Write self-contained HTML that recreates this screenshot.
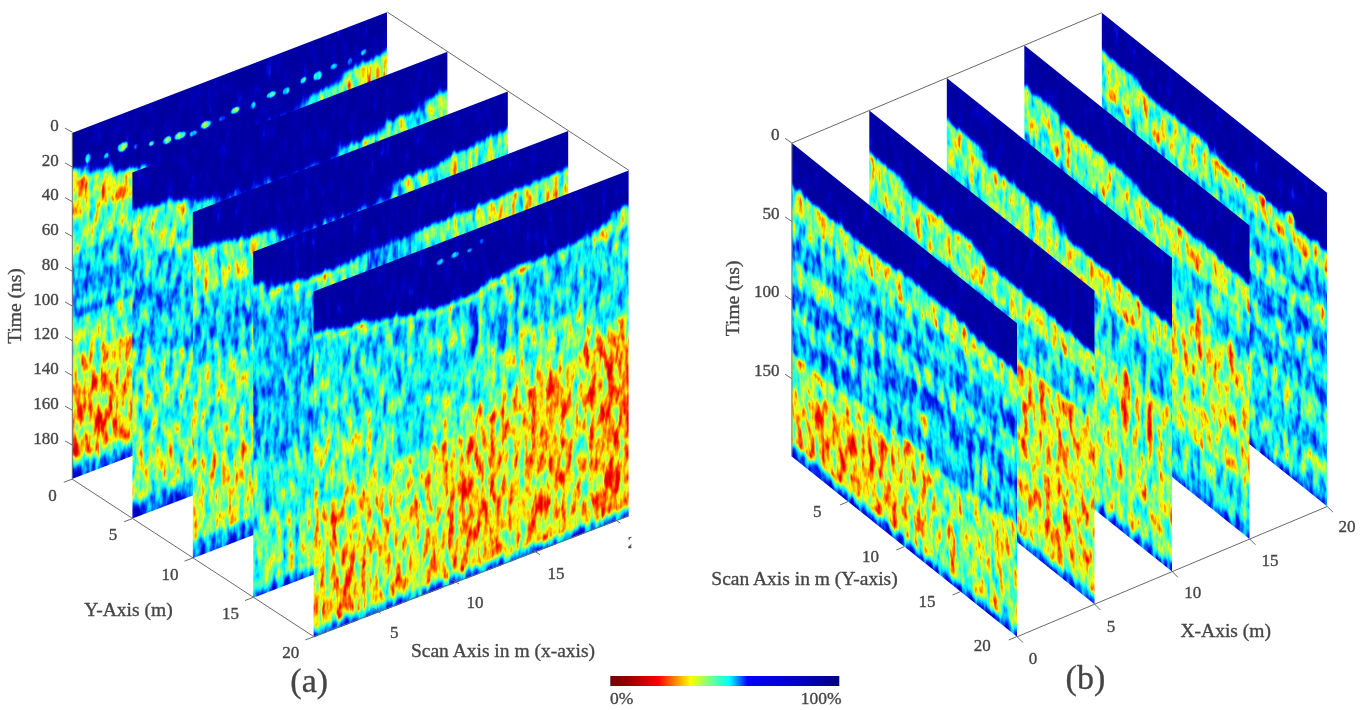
<!DOCTYPE html>
<html><head><meta charset="utf-8"><style>
html,body{margin:0;padding:0;background:#fff;overflow:hidden;}
svg{display:block;}
text{font-family:"Liberation Serif",serif;fill:#454545;stroke:#454545;stroke-width:0.35px;}
</style></head><body>
<svg width="1363" height="710" viewBox="0 0 1363 710">
<defs><linearGradient id="ga00" gradientUnits="userSpaceOnUse" x1="0" y1="0" x2="0" y2="346"><stop offset="0.0000" stop-color="#f2f2f2"/><stop offset="0.0882" stop-color="#f2f2f2"/><stop offset="0.1142" stop-color="#5f5f5f"/><stop offset="0.2355" stop-color="#5f5f5f"/><stop offset="0.2500" stop-color="#737373"/><stop offset="0.3425" stop-color="#737373"/><stop offset="0.3569" stop-color="#8c8c8c"/><stop offset="0.4234" stop-color="#8c8c8c"/><stop offset="0.4379" stop-color="#9e9e9e"/><stop offset="0.4783" stop-color="#9e9e9e"/><stop offset="0.4928" stop-color="#8a8a8a"/><stop offset="0.5043" stop-color="#8a8a8a"/><stop offset="0.5188" stop-color="#999999"/><stop offset="0.5303" stop-color="#999999"/><stop offset="0.5448" stop-color="#737373"/><stop offset="0.6373" stop-color="#737373"/><stop offset="0.6517" stop-color="#5f5f5f"/><stop offset="0.7182" stop-color="#5f5f5f"/><stop offset="0.7327" stop-color="#4d4d4d"/><stop offset="0.9350" stop-color="#4d4d4d"/><stop offset="0.9494" stop-color="#707070"/><stop offset="0.9538" stop-color="#707070"/><stop offset="0.9711" stop-color="#949494"/><stop offset="0.9942" stop-color="#b2b2b2"/><stop offset="1.0000" stop-color="#b2b2b2"/></linearGradient><linearGradient id="ga01" gradientUnits="userSpaceOnUse" x1="0" y1="0" x2="0" y2="346"><stop offset="0.0000" stop-color="#f2f2f2"/><stop offset="0.1199" stop-color="#f2f2f2"/><stop offset="0.1460" stop-color="#5f5f5f"/><stop offset="0.2355" stop-color="#5f5f5f"/><stop offset="0.2500" stop-color="#737373"/><stop offset="0.3425" stop-color="#737373"/><stop offset="0.3569" stop-color="#8c8c8c"/><stop offset="0.4234" stop-color="#8c8c8c"/><stop offset="0.4379" stop-color="#9e9e9e"/><stop offset="0.4783" stop-color="#9e9e9e"/><stop offset="0.4928" stop-color="#8a8a8a"/><stop offset="0.5043" stop-color="#8a8a8a"/><stop offset="0.5188" stop-color="#999999"/><stop offset="0.5303" stop-color="#999999"/><stop offset="0.5448" stop-color="#737373"/><stop offset="0.6373" stop-color="#737373"/><stop offset="0.6517" stop-color="#5f5f5f"/><stop offset="0.7182" stop-color="#5f5f5f"/><stop offset="0.7327" stop-color="#505050"/><stop offset="0.9350" stop-color="#505050"/><stop offset="0.9494" stop-color="#707070"/><stop offset="0.9538" stop-color="#707070"/><stop offset="0.9711" stop-color="#949494"/><stop offset="0.9942" stop-color="#b2b2b2"/><stop offset="1.0000" stop-color="#b2b2b2"/></linearGradient><linearGradient id="ga02" gradientUnits="userSpaceOnUse" x1="0" y1="0" x2="0" y2="346"><stop offset="0.0000" stop-color="#f2f2f2"/><stop offset="0.1488" stop-color="#f2f2f2"/><stop offset="0.1749" stop-color="#5e5e5e"/><stop offset="0.2413" stop-color="#5e5e5e"/><stop offset="0.2558" stop-color="#737373"/><stop offset="0.3425" stop-color="#737373"/><stop offset="0.3569" stop-color="#8c8c8c"/><stop offset="0.4234" stop-color="#8c8c8c"/><stop offset="0.4379" stop-color="#9e9e9e"/><stop offset="0.4783" stop-color="#9e9e9e"/><stop offset="0.4928" stop-color="#8a8a8a"/><stop offset="0.5043" stop-color="#8a8a8a"/><stop offset="0.5188" stop-color="#999999"/><stop offset="0.5303" stop-color="#999999"/><stop offset="0.5448" stop-color="#737373"/><stop offset="0.6373" stop-color="#737373"/><stop offset="0.6517" stop-color="#5e5e5e"/><stop offset="0.7182" stop-color="#5e5e5e"/><stop offset="0.7327" stop-color="#555555"/><stop offset="0.9350" stop-color="#555555"/><stop offset="0.9494" stop-color="#707070"/><stop offset="0.9538" stop-color="#707070"/><stop offset="0.9711" stop-color="#949494"/><stop offset="0.9942" stop-color="#b2b2b2"/><stop offset="1.0000" stop-color="#b2b2b2"/></linearGradient><linearGradient id="ga03" gradientUnits="userSpaceOnUse" x1="0" y1="0" x2="0" y2="346"><stop offset="0.0000" stop-color="#f2f2f2"/><stop offset="0.1604" stop-color="#f2f2f2"/><stop offset="0.1864" stop-color="#666666"/><stop offset="0.2413" stop-color="#666666"/><stop offset="0.2558" stop-color="#737373"/><stop offset="0.3425" stop-color="#737373"/><stop offset="0.3569" stop-color="#8c8c8c"/><stop offset="0.4234" stop-color="#8c8c8c"/><stop offset="0.4379" stop-color="#9e9e9e"/><stop offset="0.4783" stop-color="#9e9e9e"/><stop offset="0.4928" stop-color="#8a8a8a"/><stop offset="0.5043" stop-color="#8a8a8a"/><stop offset="0.5188" stop-color="#999999"/><stop offset="0.5303" stop-color="#999999"/><stop offset="0.5448" stop-color="#737373"/><stop offset="0.6373" stop-color="#737373"/><stop offset="0.6517" stop-color="#5e5e5e"/><stop offset="0.7182" stop-color="#5e5e5e"/><stop offset="0.7327" stop-color="#555555"/><stop offset="0.9350" stop-color="#555555"/><stop offset="0.9494" stop-color="#707070"/><stop offset="0.9538" stop-color="#707070"/><stop offset="0.9711" stop-color="#949494"/><stop offset="0.9942" stop-color="#b2b2b2"/><stop offset="1.0000" stop-color="#b2b2b2"/></linearGradient><linearGradient id="ga04" gradientUnits="userSpaceOnUse" x1="0" y1="0" x2="0" y2="346"><stop offset="0.0000" stop-color="#f2f2f2"/><stop offset="0.9624" stop-color="#f2f2f2"/><stop offset="0.9798" stop-color="#949494"/><stop offset="0.9942" stop-color="#adadad"/><stop offset="1.0000" stop-color="#adadad"/></linearGradient><linearGradient id="ga05" gradientUnits="userSpaceOnUse" x1="0" y1="0" x2="0" y2="346"><stop offset="0.0000" stop-color="#f2f2f2"/><stop offset="0.9624" stop-color="#f2f2f2"/><stop offset="0.9798" stop-color="#949494"/><stop offset="0.9942" stop-color="#adadad"/><stop offset="1.0000" stop-color="#adadad"/></linearGradient><linearGradient id="ga06" gradientUnits="userSpaceOnUse" x1="0" y1="0" x2="0" y2="346"><stop offset="0.0000" stop-color="#f2f2f2"/><stop offset="0.1662" stop-color="#f2f2f2"/><stop offset="0.1922" stop-color="#999999"/><stop offset="0.9624" stop-color="#999999"/><stop offset="0.9798" stop-color="#949494"/><stop offset="0.9942" stop-color="#adadad"/><stop offset="1.0000" stop-color="#adadad"/></linearGradient><linearGradient id="ga07" gradientUnits="userSpaceOnUse" x1="0" y1="0" x2="0" y2="346"><stop offset="0.0000" stop-color="#f2f2f2"/><stop offset="0.1373" stop-color="#f2f2f2"/><stop offset="0.1633" stop-color="#808080"/><stop offset="0.9624" stop-color="#808080"/><stop offset="0.9798" stop-color="#949494"/><stop offset="0.9942" stop-color="#adadad"/><stop offset="1.0000" stop-color="#adadad"/></linearGradient><linearGradient id="ga08" gradientUnits="userSpaceOnUse" x1="0" y1="0" x2="0" y2="346"><stop offset="0.0000" stop-color="#f2f2f2"/><stop offset="0.1084" stop-color="#f2f2f2"/><stop offset="0.1344" stop-color="#616161"/><stop offset="0.9624" stop-color="#616161"/><stop offset="0.9798" stop-color="#949494"/><stop offset="0.9942" stop-color="#adadad"/><stop offset="1.0000" stop-color="#adadad"/></linearGradient><linearGradient id="ga09" gradientUnits="userSpaceOnUse" x1="0" y1="0" x2="0" y2="346"><stop offset="0.0000" stop-color="#f2f2f2"/><stop offset="0.0968" stop-color="#f2f2f2"/><stop offset="0.1228" stop-color="#606060"/><stop offset="0.9624" stop-color="#606060"/><stop offset="0.9798" stop-color="#949494"/><stop offset="0.9942" stop-color="#adadad"/><stop offset="1.0000" stop-color="#adadad"/></linearGradient><filter id="bla0" filterUnits="userSpaceOnUse" x="-30" y="-30" width="375" height="406" color-interpolation-filters="sRGB"><feGaussianBlur stdDeviation="7 1.2"/></filter><radialGradient id="r52"><stop offset="0" stop-color="#858585"/><stop offset="0.55" stop-color="#858585" stop-opacity="0.85"/><stop offset="1" stop-color="#858585" stop-opacity="0"/></radialGradient><radialGradient id="r55"><stop offset="0" stop-color="#8c8c8c"/><stop offset="0.55" stop-color="#8c8c8c" stop-opacity="0.85"/><stop offset="1" stop-color="#8c8c8c" stop-opacity="0"/></radialGradient><radialGradient id="r42"><stop offset="0" stop-color="#6b6b6b"/><stop offset="0.55" stop-color="#6b6b6b" stop-opacity="0.85"/><stop offset="1" stop-color="#6b6b6b" stop-opacity="0"/></radialGradient><radialGradient id="r44"><stop offset="0" stop-color="#707070"/><stop offset="0.55" stop-color="#707070" stop-opacity="0.85"/><stop offset="1" stop-color="#707070" stop-opacity="0"/></radialGradient><radialGradient id="r40"><stop offset="0" stop-color="#666666"/><stop offset="0.55" stop-color="#666666" stop-opacity="0.85"/><stop offset="1" stop-color="#666666" stop-opacity="0"/></radialGradient><radialGradient id="r50"><stop offset="0" stop-color="#808080"/><stop offset="0.55" stop-color="#808080" stop-opacity="0.85"/><stop offset="1" stop-color="#808080" stop-opacity="0"/></radialGradient><radialGradient id="r46"><stop offset="0" stop-color="#757575"/><stop offset="0.55" stop-color="#757575" stop-opacity="0.85"/><stop offset="1" stop-color="#757575" stop-opacity="0"/></radialGradient><radialGradient id="r45"><stop offset="0" stop-color="#737373"/><stop offset="0.55" stop-color="#737373" stop-opacity="0.85"/><stop offset="1" stop-color="#737373" stop-opacity="0"/></radialGradient><filter id="ja0" filterUnits="userSpaceOnUse" x="-30" y="-30" width="375" height="406" color-interpolation-filters="sRGB" primitiveUnits="userSpaceOnUse"><feTurbulence type="fractalNoise" baseFrequency="0.17 0.045" numOctaves="3" seed="10" result="n0"/><feColorMatrix in="n0" type="matrix" values="1 0 0 0 0 1 0 0 0 0 1 0 0 0 0 0 0 0 0 1" result="n"/><feComposite in="SourceGraphic" in2="n" operator="arithmetic" k2="1" k3="0.55" k4="-0.275" result="s"/><feColorMatrix in="s" type="matrix" values="1 0 0 0 0 1 0 0 0 0 1 0 0 0 0 0 0 0 0 1"/><feComponentTransfer><feFuncR type="table" tableValues="0.502 0.527 0.552 0.577 0.602 0.626 0.651 0.676 0.701 0.726 0.751 0.776 0.801 0.826 0.851 0.875 0.9 0.925 0.95 0.975 1 1 1 1 1 1 1 1 1 1 1 1 1 1 1 1 0.938 0.875 0.813 0.751 0.689 0.626 0.564 0.502 0.446 0.39 0.335 0.279 0.223 0.167 0.112 0.0558 0 0 0 0 0 0 0 0 0 0 0 0 0 0 0 0 0 0 0 0 0 0 0 0 0 0 0 0 0 0 0 0 0 0 0 0 0 0 0 0 0 0 0 0 0 0 0 0 0"/><feFuncG type="table" tableValues="0 0 0 0 0 0 0 0 0 0 0 0 0 0 0 0 0 0 0 0 0 0.0627 0.125 0.188 0.251 0.314 0.376 0.439 0.502 0.573 0.644 0.715 0.787 0.858 0.929 1 1 1 1 1 1 1 1 1 1 1 1 1 1 1 1 1 1 0.958 0.915 0.873 0.83 0.788 0.745 0.693 0.641 0.588 0.536 0.484 0.431 0.382 0.333 0.284 0.235 0.186 0.137 0.124 0.11 0.0961 0.0824 0.0686 0.0549 0.0412 0.0275 0.0137 0 0 0 0 0 0 0 0 0 0 0 0 0 0 0 0 0 0 0 0 0"/><feFuncB type="table" tableValues="0 0 0 0 0 0 0 0 0 0 0 0 0 0 0 0 0 0 0 0 0 0 0 0 0 0 0 0 0 0 0 0 0 0 0 0 0.0627 0.125 0.188 0.251 0.314 0.376 0.439 0.502 0.557 0.613 0.668 0.723 0.779 0.834 0.889 0.945 1 1 1 1 1 1 1 1 1 1 1 1 1 0.993 0.987 0.98 0.974 0.967 0.961 0.941 0.922 0.902 0.882 0.863 0.843 0.824 0.804 0.784 0.765 0.755 0.745 0.735 0.725 0.716 0.706 0.696 0.686 0.676 0.667 0.663 0.659 0.655 0.651 0.647 0.643 0.639 0.635 0.631 0.627"/></feComponentTransfer><feGaussianBlur stdDeviation="0.6"/></filter><clipPath id="ca0"><rect x="0" y="0" width="315" height="346"/></clipPath><linearGradient id="ga10" gradientUnits="userSpaceOnUse" x1="0" y1="0" x2="0" y2="346"><stop offset="0.0000" stop-color="#f2f2f2"/><stop offset="0.0882" stop-color="#f2f2f2"/><stop offset="0.1142" stop-color="#737373"/><stop offset="0.2240" stop-color="#737373"/><stop offset="0.2384" stop-color="#8c8c8c"/><stop offset="0.3338" stop-color="#8c8c8c"/><stop offset="0.3483" stop-color="#9e9e9e"/><stop offset="0.3858" stop-color="#9e9e9e"/><stop offset="0.4003" stop-color="#8c8c8c"/><stop offset="0.4725" stop-color="#8c8c8c"/><stop offset="0.4870" stop-color="#999999"/><stop offset="0.5101" stop-color="#999999"/><stop offset="0.5246" stop-color="#787878"/><stop offset="0.7731" stop-color="#787878"/><stop offset="0.7876" stop-color="#6b6b6b"/><stop offset="0.9422" stop-color="#6b6b6b"/><stop offset="0.9595" stop-color="#949494"/><stop offset="0.9942" stop-color="#b8b8b8"/><stop offset="1.0000" stop-color="#b8b8b8"/></linearGradient><linearGradient id="ga11" gradientUnits="userSpaceOnUse" x1="0" y1="0" x2="0" y2="346"><stop offset="0.0000" stop-color="#f2f2f2"/><stop offset="0.1055" stop-color="#f2f2f2"/><stop offset="0.1315" stop-color="#737373"/><stop offset="0.2529" stop-color="#737373"/><stop offset="0.2673" stop-color="#8c8c8c"/><stop offset="0.3656" stop-color="#8c8c8c"/><stop offset="0.3801" stop-color="#9e9e9e"/><stop offset="0.4176" stop-color="#9e9e9e"/><stop offset="0.4321" stop-color="#8c8c8c"/><stop offset="0.5043" stop-color="#8c8c8c"/><stop offset="0.5188" stop-color="#999999"/><stop offset="0.5419" stop-color="#999999"/><stop offset="0.5564" stop-color="#787878"/><stop offset="0.8020" stop-color="#787878"/><stop offset="0.8165" stop-color="#6b6b6b"/><stop offset="0.9422" stop-color="#6b6b6b"/><stop offset="0.9595" stop-color="#949494"/><stop offset="0.9942" stop-color="#b8b8b8"/><stop offset="1.0000" stop-color="#b8b8b8"/></linearGradient><linearGradient id="ga12" gradientUnits="userSpaceOnUse" x1="0" y1="0" x2="0" y2="346"><stop offset="0.0000" stop-color="#f2f2f2"/><stop offset="0.1199" stop-color="#f2f2f2"/><stop offset="0.1460" stop-color="#737373"/><stop offset="0.2645" stop-color="#737373"/><stop offset="0.2789" stop-color="#8c8c8c"/><stop offset="0.3772" stop-color="#8c8c8c"/><stop offset="0.3916" stop-color="#9e9e9e"/><stop offset="0.4292" stop-color="#9e9e9e"/><stop offset="0.4436" stop-color="#8c8c8c"/><stop offset="0.5159" stop-color="#8c8c8c"/><stop offset="0.5303" stop-color="#999999"/><stop offset="0.5535" stop-color="#999999"/><stop offset="0.5679" stop-color="#787878"/><stop offset="0.8136" stop-color="#787878"/><stop offset="0.8280" stop-color="#6b6b6b"/><stop offset="0.9422" stop-color="#6b6b6b"/><stop offset="0.9595" stop-color="#949494"/><stop offset="0.9942" stop-color="#b8b8b8"/><stop offset="1.0000" stop-color="#b8b8b8"/></linearGradient><linearGradient id="ga13" gradientUnits="userSpaceOnUse" x1="0" y1="0" x2="0" y2="346"><stop offset="0.0000" stop-color="#f2f2f2"/><stop offset="0.1431" stop-color="#f2f2f2"/><stop offset="0.1691" stop-color="#808080"/><stop offset="0.2645" stop-color="#808080"/><stop offset="0.2789" stop-color="#8c8c8c"/><stop offset="0.3772" stop-color="#8c8c8c"/><stop offset="0.3916" stop-color="#9e9e9e"/><stop offset="0.4292" stop-color="#9e9e9e"/><stop offset="0.4436" stop-color="#8c8c8c"/><stop offset="0.5159" stop-color="#8c8c8c"/><stop offset="0.5303" stop-color="#999999"/><stop offset="0.5535" stop-color="#999999"/><stop offset="0.5679" stop-color="#787878"/><stop offset="0.8136" stop-color="#787878"/><stop offset="0.8280" stop-color="#6b6b6b"/><stop offset="0.9422" stop-color="#6b6b6b"/><stop offset="0.9595" stop-color="#949494"/><stop offset="0.9942" stop-color="#b8b8b8"/><stop offset="1.0000" stop-color="#b8b8b8"/></linearGradient><linearGradient id="ga14" gradientUnits="userSpaceOnUse" x1="0" y1="0" x2="0" y2="346"><stop offset="0.0000" stop-color="#f2f2f2"/><stop offset="0.1546" stop-color="#f2f2f2"/><stop offset="0.1806" stop-color="#b8b8b8"/><stop offset="0.9624" stop-color="#b8b8b8"/><stop offset="0.9798" stop-color="#949494"/><stop offset="0.9942" stop-color="#adadad"/><stop offset="1.0000" stop-color="#adadad"/></linearGradient><linearGradient id="ga15" gradientUnits="userSpaceOnUse" x1="0" y1="0" x2="0" y2="346"><stop offset="0.0000" stop-color="#f2f2f2"/><stop offset="0.1662" stop-color="#f2f2f2"/><stop offset="0.1922" stop-color="#999999"/><stop offset="0.9624" stop-color="#999999"/><stop offset="0.9798" stop-color="#949494"/><stop offset="0.9942" stop-color="#adadad"/><stop offset="1.0000" stop-color="#adadad"/></linearGradient><linearGradient id="ga16" gradientUnits="userSpaceOnUse" x1="0" y1="0" x2="0" y2="346"><stop offset="0.0000" stop-color="#f2f2f2"/><stop offset="0.1431" stop-color="#f2f2f2"/><stop offset="0.1691" stop-color="#808080"/><stop offset="0.9624" stop-color="#808080"/><stop offset="0.9798" stop-color="#949494"/><stop offset="0.9942" stop-color="#adadad"/><stop offset="1.0000" stop-color="#adadad"/></linearGradient><linearGradient id="ga17" gradientUnits="userSpaceOnUse" x1="0" y1="0" x2="0" y2="346"><stop offset="0.0000" stop-color="#f2f2f2"/><stop offset="0.1199" stop-color="#f2f2f2"/><stop offset="0.1460" stop-color="#757575"/><stop offset="0.9624" stop-color="#757575"/><stop offset="0.9798" stop-color="#949494"/><stop offset="0.9942" stop-color="#adadad"/><stop offset="1.0000" stop-color="#adadad"/></linearGradient><linearGradient id="ga18" gradientUnits="userSpaceOnUse" x1="0" y1="0" x2="0" y2="346"><stop offset="0.0000" stop-color="#f2f2f2"/><stop offset="0.0968" stop-color="#f2f2f2"/><stop offset="0.1228" stop-color="#707070"/><stop offset="0.9624" stop-color="#707070"/><stop offset="0.9798" stop-color="#949494"/><stop offset="0.9942" stop-color="#adadad"/><stop offset="1.0000" stop-color="#adadad"/></linearGradient><filter id="bla1" filterUnits="userSpaceOnUse" x="-30" y="-30" width="375" height="406" color-interpolation-filters="sRGB"><feGaussianBlur stdDeviation="7 1.2"/></filter><filter id="ja1" filterUnits="userSpaceOnUse" x="-30" y="-30" width="375" height="406" color-interpolation-filters="sRGB" primitiveUnits="userSpaceOnUse"><feTurbulence type="fractalNoise" baseFrequency="0.17 0.045" numOctaves="3" seed="11" result="n0"/><feColorMatrix in="n0" type="matrix" values="1 0 0 0 0 1 0 0 0 0 1 0 0 0 0 0 0 0 0 1" result="n"/><feComposite in="SourceGraphic" in2="n" operator="arithmetic" k2="1" k3="0.55" k4="-0.275" result="s"/><feColorMatrix in="s" type="matrix" values="1 0 0 0 0 1 0 0 0 0 1 0 0 0 0 0 0 0 0 1"/><feComponentTransfer><feFuncR type="table" tableValues="0.502 0.527 0.552 0.577 0.602 0.626 0.651 0.676 0.701 0.726 0.751 0.776 0.801 0.826 0.851 0.875 0.9 0.925 0.95 0.975 1 1 1 1 1 1 1 1 1 1 1 1 1 1 1 1 0.938 0.875 0.813 0.751 0.689 0.626 0.564 0.502 0.446 0.39 0.335 0.279 0.223 0.167 0.112 0.0558 0 0 0 0 0 0 0 0 0 0 0 0 0 0 0 0 0 0 0 0 0 0 0 0 0 0 0 0 0 0 0 0 0 0 0 0 0 0 0 0 0 0 0 0 0 0 0 0 0"/><feFuncG type="table" tableValues="0 0 0 0 0 0 0 0 0 0 0 0 0 0 0 0 0 0 0 0 0 0.0627 0.125 0.188 0.251 0.314 0.376 0.439 0.502 0.573 0.644 0.715 0.787 0.858 0.929 1 1 1 1 1 1 1 1 1 1 1 1 1 1 1 1 1 1 0.958 0.915 0.873 0.83 0.788 0.745 0.693 0.641 0.588 0.536 0.484 0.431 0.382 0.333 0.284 0.235 0.186 0.137 0.124 0.11 0.0961 0.0824 0.0686 0.0549 0.0412 0.0275 0.0137 0 0 0 0 0 0 0 0 0 0 0 0 0 0 0 0 0 0 0 0 0"/><feFuncB type="table" tableValues="0 0 0 0 0 0 0 0 0 0 0 0 0 0 0 0 0 0 0 0 0 0 0 0 0 0 0 0 0 0 0 0 0 0 0 0 0.0627 0.125 0.188 0.251 0.314 0.376 0.439 0.502 0.557 0.613 0.668 0.723 0.779 0.834 0.889 0.945 1 1 1 1 1 1 1 1 1 1 1 1 1 0.993 0.987 0.98 0.974 0.967 0.961 0.941 0.922 0.902 0.882 0.863 0.843 0.824 0.804 0.784 0.765 0.755 0.745 0.735 0.725 0.716 0.706 0.696 0.686 0.676 0.667 0.663 0.659 0.655 0.651 0.647 0.643 0.639 0.635 0.631 0.627"/></feComponentTransfer><feGaussianBlur stdDeviation="0.6"/></filter><clipPath id="ca1"><rect x="0" y="0" width="315" height="346"/></clipPath><linearGradient id="ga20" gradientUnits="userSpaceOnUse" x1="0" y1="0" x2="0" y2="346"><stop offset="0.0000" stop-color="#f2f2f2"/><stop offset="0.0910" stop-color="#f2f2f2"/><stop offset="0.1171" stop-color="#707070"/><stop offset="0.2413" stop-color="#707070"/><stop offset="0.2558" stop-color="#8a8a8a"/><stop offset="0.3165" stop-color="#8a8a8a"/><stop offset="0.3309" stop-color="#999999"/><stop offset="0.3801" stop-color="#999999"/><stop offset="0.3945" stop-color="#8a8a8a"/><stop offset="0.4465" stop-color="#8a8a8a"/><stop offset="0.4610" stop-color="#757575"/><stop offset="0.7153" stop-color="#757575"/><stop offset="0.7298" stop-color="#666666"/><stop offset="0.9176" stop-color="#666666"/><stop offset="0.9321" stop-color="#666666"/><stop offset="0.9422" stop-color="#666666"/><stop offset="0.9595" stop-color="#949494"/><stop offset="0.9942" stop-color="#b8b8b8"/><stop offset="1.0000" stop-color="#b8b8b8"/></linearGradient><linearGradient id="ga21" gradientUnits="userSpaceOnUse" x1="0" y1="0" x2="0" y2="346"><stop offset="0.0000" stop-color="#f2f2f2"/><stop offset="0.1026" stop-color="#f2f2f2"/><stop offset="0.1286" stop-color="#707070"/><stop offset="0.2413" stop-color="#707070"/><stop offset="0.2558" stop-color="#8a8a8a"/><stop offset="0.3165" stop-color="#8a8a8a"/><stop offset="0.3309" stop-color="#999999"/><stop offset="0.3801" stop-color="#999999"/><stop offset="0.3945" stop-color="#8a8a8a"/><stop offset="0.4465" stop-color="#8a8a8a"/><stop offset="0.4610" stop-color="#757575"/><stop offset="0.7153" stop-color="#757575"/><stop offset="0.7298" stop-color="#666666"/><stop offset="0.9176" stop-color="#666666"/><stop offset="0.9321" stop-color="#666666"/><stop offset="0.9422" stop-color="#666666"/><stop offset="0.9595" stop-color="#949494"/><stop offset="0.9942" stop-color="#b8b8b8"/><stop offset="1.0000" stop-color="#b8b8b8"/></linearGradient><linearGradient id="ga22" gradientUnits="userSpaceOnUse" x1="0" y1="0" x2="0" y2="346"><stop offset="0.0000" stop-color="#f2f2f2"/><stop offset="0.1171" stop-color="#f2f2f2"/><stop offset="0.1431" stop-color="#707070"/><stop offset="0.2413" stop-color="#707070"/><stop offset="0.2558" stop-color="#8a8a8a"/><stop offset="0.3165" stop-color="#8a8a8a"/><stop offset="0.3309" stop-color="#999999"/><stop offset="0.3801" stop-color="#999999"/><stop offset="0.3945" stop-color="#8a8a8a"/><stop offset="0.4465" stop-color="#8a8a8a"/><stop offset="0.4610" stop-color="#757575"/><stop offset="0.7153" stop-color="#757575"/><stop offset="0.7298" stop-color="#666666"/><stop offset="0.9176" stop-color="#666666"/><stop offset="0.9321" stop-color="#666666"/><stop offset="0.9422" stop-color="#666666"/><stop offset="0.9595" stop-color="#949494"/><stop offset="0.9942" stop-color="#b8b8b8"/><stop offset="1.0000" stop-color="#b8b8b8"/></linearGradient><linearGradient id="ga23" gradientUnits="userSpaceOnUse" x1="0" y1="0" x2="0" y2="346"><stop offset="0.0000" stop-color="#f2f2f2"/><stop offset="0.1199" stop-color="#f2f2f2"/><stop offset="0.1460" stop-color="#707070"/><stop offset="0.2413" stop-color="#707070"/><stop offset="0.2558" stop-color="#8a8a8a"/><stop offset="0.3165" stop-color="#8a8a8a"/><stop offset="0.3309" stop-color="#999999"/><stop offset="0.3801" stop-color="#999999"/><stop offset="0.3945" stop-color="#8a8a8a"/><stop offset="0.4465" stop-color="#8a8a8a"/><stop offset="0.4610" stop-color="#757575"/><stop offset="0.7153" stop-color="#757575"/><stop offset="0.7298" stop-color="#666666"/><stop offset="0.9176" stop-color="#666666"/><stop offset="0.9321" stop-color="#666666"/><stop offset="0.9422" stop-color="#666666"/><stop offset="0.9595" stop-color="#949494"/><stop offset="0.9942" stop-color="#b8b8b8"/><stop offset="1.0000" stop-color="#b8b8b8"/></linearGradient><linearGradient id="ga24" gradientUnits="userSpaceOnUse" x1="0" y1="0" x2="0" y2="346"><stop offset="0.0000" stop-color="#f2f2f2"/><stop offset="0.1546" stop-color="#f2f2f2"/><stop offset="0.1806" stop-color="#b2b2b2"/><stop offset="0.9624" stop-color="#b2b2b2"/><stop offset="0.9798" stop-color="#949494"/><stop offset="0.9942" stop-color="#adadad"/><stop offset="1.0000" stop-color="#adadad"/></linearGradient><linearGradient id="ga25" gradientUnits="userSpaceOnUse" x1="0" y1="0" x2="0" y2="346"><stop offset="0.0000" stop-color="#f2f2f2"/><stop offset="0.1604" stop-color="#f2f2f2"/><stop offset="0.1864" stop-color="#999999"/><stop offset="0.9624" stop-color="#999999"/><stop offset="0.9798" stop-color="#949494"/><stop offset="0.9942" stop-color="#adadad"/><stop offset="1.0000" stop-color="#adadad"/></linearGradient><linearGradient id="ga26" gradientUnits="userSpaceOnUse" x1="0" y1="0" x2="0" y2="346"><stop offset="0.0000" stop-color="#f2f2f2"/><stop offset="0.1199" stop-color="#f2f2f2"/><stop offset="0.1460" stop-color="#7a7a7a"/><stop offset="0.9624" stop-color="#7a7a7a"/><stop offset="0.9798" stop-color="#949494"/><stop offset="0.9942" stop-color="#adadad"/><stop offset="1.0000" stop-color="#adadad"/></linearGradient><linearGradient id="ga27" gradientUnits="userSpaceOnUse" x1="0" y1="0" x2="0" y2="346"><stop offset="0.0000" stop-color="#f2f2f2"/><stop offset="0.1026" stop-color="#f2f2f2"/><stop offset="0.1286" stop-color="#737373"/><stop offset="0.9624" stop-color="#737373"/><stop offset="0.9798" stop-color="#949494"/><stop offset="0.9942" stop-color="#adadad"/><stop offset="1.0000" stop-color="#adadad"/></linearGradient><linearGradient id="ga28" gradientUnits="userSpaceOnUse" x1="0" y1="0" x2="0" y2="346"><stop offset="0.0000" stop-color="#f2f2f2"/><stop offset="0.0910" stop-color="#f2f2f2"/><stop offset="0.1171" stop-color="#737373"/><stop offset="0.9624" stop-color="#737373"/><stop offset="0.9798" stop-color="#949494"/><stop offset="0.9942" stop-color="#adadad"/><stop offset="1.0000" stop-color="#adadad"/></linearGradient><filter id="bla2" filterUnits="userSpaceOnUse" x="-30" y="-30" width="375" height="406" color-interpolation-filters="sRGB"><feGaussianBlur stdDeviation="7 1.2"/></filter><filter id="ja2" filterUnits="userSpaceOnUse" x="-30" y="-30" width="375" height="406" color-interpolation-filters="sRGB" primitiveUnits="userSpaceOnUse"><feTurbulence type="fractalNoise" baseFrequency="0.17 0.045" numOctaves="3" seed="12" result="n0"/><feColorMatrix in="n0" type="matrix" values="1 0 0 0 0 1 0 0 0 0 1 0 0 0 0 0 0 0 0 1" result="n"/><feComposite in="SourceGraphic" in2="n" operator="arithmetic" k2="1" k3="0.55" k4="-0.275" result="s"/><feColorMatrix in="s" type="matrix" values="1 0 0 0 0 1 0 0 0 0 1 0 0 0 0 0 0 0 0 1"/><feComponentTransfer><feFuncR type="table" tableValues="0.502 0.527 0.552 0.577 0.602 0.626 0.651 0.676 0.701 0.726 0.751 0.776 0.801 0.826 0.851 0.875 0.9 0.925 0.95 0.975 1 1 1 1 1 1 1 1 1 1 1 1 1 1 1 1 0.938 0.875 0.813 0.751 0.689 0.626 0.564 0.502 0.446 0.39 0.335 0.279 0.223 0.167 0.112 0.0558 0 0 0 0 0 0 0 0 0 0 0 0 0 0 0 0 0 0 0 0 0 0 0 0 0 0 0 0 0 0 0 0 0 0 0 0 0 0 0 0 0 0 0 0 0 0 0 0 0"/><feFuncG type="table" tableValues="0 0 0 0 0 0 0 0 0 0 0 0 0 0 0 0 0 0 0 0 0 0.0627 0.125 0.188 0.251 0.314 0.376 0.439 0.502 0.573 0.644 0.715 0.787 0.858 0.929 1 1 1 1 1 1 1 1 1 1 1 1 1 1 1 1 1 1 0.958 0.915 0.873 0.83 0.788 0.745 0.693 0.641 0.588 0.536 0.484 0.431 0.382 0.333 0.284 0.235 0.186 0.137 0.124 0.11 0.0961 0.0824 0.0686 0.0549 0.0412 0.0275 0.0137 0 0 0 0 0 0 0 0 0 0 0 0 0 0 0 0 0 0 0 0 0"/><feFuncB type="table" tableValues="0 0 0 0 0 0 0 0 0 0 0 0 0 0 0 0 0 0 0 0 0 0 0 0 0 0 0 0 0 0 0 0 0 0 0 0 0.0627 0.125 0.188 0.251 0.314 0.376 0.439 0.502 0.557 0.613 0.668 0.723 0.779 0.834 0.889 0.945 1 1 1 1 1 1 1 1 1 1 1 1 1 0.993 0.987 0.98 0.974 0.967 0.961 0.941 0.922 0.902 0.882 0.863 0.843 0.824 0.804 0.784 0.765 0.755 0.745 0.735 0.725 0.716 0.706 0.696 0.686 0.676 0.667 0.663 0.659 0.655 0.651 0.647 0.643 0.639 0.635 0.631 0.627"/></feComponentTransfer><feGaussianBlur stdDeviation="0.6"/></filter><clipPath id="ca2"><rect x="0" y="0" width="315" height="346"/></clipPath><linearGradient id="ga30" gradientUnits="userSpaceOnUse" x1="0" y1="0" x2="0" y2="346"><stop offset="0.0000" stop-color="#f2f2f2"/><stop offset="0.0824" stop-color="#f2f2f2"/><stop offset="0.1084" stop-color="#666666"/><stop offset="0.1084" stop-color="#666666"/><stop offset="0.1228" stop-color="#858585"/><stop offset="0.1662" stop-color="#858585"/><stop offset="0.1806" stop-color="#919191"/><stop offset="0.5997" stop-color="#919191"/><stop offset="0.6142" stop-color="#808080"/><stop offset="0.8020" stop-color="#808080"/><stop offset="0.8165" stop-color="#737373"/><stop offset="0.9624" stop-color="#737373"/><stop offset="0.9798" stop-color="#949494"/><stop offset="0.9942" stop-color="#adadad"/><stop offset="1.0000" stop-color="#adadad"/></linearGradient><linearGradient id="ga31" gradientUnits="userSpaceOnUse" x1="0" y1="0" x2="0" y2="346"><stop offset="0.0000" stop-color="#f2f2f2"/><stop offset="0.1113" stop-color="#f2f2f2"/><stop offset="0.1373" stop-color="#666666"/><stop offset="0.1373" stop-color="#666666"/><stop offset="0.1517" stop-color="#858585"/><stop offset="0.1806" stop-color="#858585"/><stop offset="0.1951" stop-color="#949494"/><stop offset="0.5997" stop-color="#949494"/><stop offset="0.6142" stop-color="#808080"/><stop offset="0.8020" stop-color="#808080"/><stop offset="0.8165" stop-color="#737373"/><stop offset="0.9624" stop-color="#737373"/><stop offset="0.9798" stop-color="#949494"/><stop offset="0.9942" stop-color="#adadad"/><stop offset="1.0000" stop-color="#adadad"/></linearGradient><linearGradient id="ga32" gradientUnits="userSpaceOnUse" x1="0" y1="0" x2="0" y2="346"><stop offset="0.0000" stop-color="#f2f2f2"/><stop offset="0.1228" stop-color="#f2f2f2"/><stop offset="0.1488" stop-color="#666666"/><stop offset="0.1488" stop-color="#666666"/><stop offset="0.1633" stop-color="#858585"/><stop offset="0.1893" stop-color="#858585"/><stop offset="0.2038" stop-color="#919191"/><stop offset="0.5997" stop-color="#919191"/><stop offset="0.6142" stop-color="#808080"/><stop offset="0.8020" stop-color="#808080"/><stop offset="0.8165" stop-color="#707070"/><stop offset="0.9624" stop-color="#707070"/><stop offset="0.9798" stop-color="#949494"/><stop offset="0.9942" stop-color="#adadad"/><stop offset="1.0000" stop-color="#adadad"/></linearGradient><linearGradient id="ga33" gradientUnits="userSpaceOnUse" x1="0" y1="0" x2="0" y2="346"><stop offset="0.0000" stop-color="#f2f2f2"/><stop offset="0.1228" stop-color="#f2f2f2"/><stop offset="0.1488" stop-color="#666666"/><stop offset="0.1488" stop-color="#666666"/><stop offset="0.1633" stop-color="#858585"/><stop offset="0.1893" stop-color="#858585"/><stop offset="0.2038" stop-color="#919191"/><stop offset="0.5997" stop-color="#919191"/><stop offset="0.6142" stop-color="#808080"/><stop offset="0.8020" stop-color="#808080"/><stop offset="0.8165" stop-color="#707070"/><stop offset="0.9624" stop-color="#707070"/><stop offset="0.9798" stop-color="#949494"/><stop offset="0.9942" stop-color="#adadad"/><stop offset="1.0000" stop-color="#adadad"/></linearGradient><linearGradient id="ga34" gradientUnits="userSpaceOnUse" x1="0" y1="0" x2="0" y2="346"><stop offset="0.0000" stop-color="#f2f2f2"/><stop offset="0.1084" stop-color="#f2f2f2"/><stop offset="0.1344" stop-color="#949494"/><stop offset="0.9624" stop-color="#949494"/><stop offset="0.9798" stop-color="#949494"/><stop offset="0.9942" stop-color="#adadad"/><stop offset="1.0000" stop-color="#adadad"/></linearGradient><linearGradient id="ga35" gradientUnits="userSpaceOnUse" x1="0" y1="0" x2="0" y2="346"><stop offset="0.0000" stop-color="#f2f2f2"/><stop offset="0.1026" stop-color="#f2f2f2"/><stop offset="0.1286" stop-color="#737373"/><stop offset="0.9624" stop-color="#737373"/><stop offset="0.9798" stop-color="#949494"/><stop offset="0.9942" stop-color="#adadad"/><stop offset="1.0000" stop-color="#adadad"/></linearGradient><linearGradient id="ga36" gradientUnits="userSpaceOnUse" x1="0" y1="0" x2="0" y2="346"><stop offset="0.0000" stop-color="#f2f2f2"/><stop offset="0.0968" stop-color="#f2f2f2"/><stop offset="0.1228" stop-color="#666666"/><stop offset="0.9624" stop-color="#666666"/><stop offset="0.9798" stop-color="#949494"/><stop offset="0.9942" stop-color="#adadad"/><stop offset="1.0000" stop-color="#adadad"/></linearGradient><linearGradient id="ga37" gradientUnits="userSpaceOnUse" x1="0" y1="0" x2="0" y2="346"><stop offset="0.0000" stop-color="#f2f2f2"/><stop offset="0.0910" stop-color="#f2f2f2"/><stop offset="0.1171" stop-color="#6b6b6b"/><stop offset="0.9624" stop-color="#6b6b6b"/><stop offset="0.9798" stop-color="#949494"/><stop offset="0.9942" stop-color="#adadad"/><stop offset="1.0000" stop-color="#adadad"/></linearGradient><filter id="bla3" filterUnits="userSpaceOnUse" x="-30" y="-30" width="375" height="406" color-interpolation-filters="sRGB"><feGaussianBlur stdDeviation="7 1.2"/></filter><filter id="ja3" filterUnits="userSpaceOnUse" x="-30" y="-30" width="375" height="406" color-interpolation-filters="sRGB" primitiveUnits="userSpaceOnUse"><feTurbulence type="fractalNoise" baseFrequency="0.17 0.045" numOctaves="3" seed="13" result="n0"/><feColorMatrix in="n0" type="matrix" values="1 0 0 0 0 1 0 0 0 0 1 0 0 0 0 0 0 0 0 1" result="n"/><feComposite in="SourceGraphic" in2="n" operator="arithmetic" k2="1" k3="0.55" k4="-0.275" result="s"/><feColorMatrix in="s" type="matrix" values="1 0 0 0 0 1 0 0 0 0 1 0 0 0 0 0 0 0 0 1"/><feComponentTransfer><feFuncR type="table" tableValues="0.502 0.527 0.552 0.577 0.602 0.626 0.651 0.676 0.701 0.726 0.751 0.776 0.801 0.826 0.851 0.875 0.9 0.925 0.95 0.975 1 1 1 1 1 1 1 1 1 1 1 1 1 1 1 1 0.938 0.875 0.813 0.751 0.689 0.626 0.564 0.502 0.446 0.39 0.335 0.279 0.223 0.167 0.112 0.0558 0 0 0 0 0 0 0 0 0 0 0 0 0 0 0 0 0 0 0 0 0 0 0 0 0 0 0 0 0 0 0 0 0 0 0 0 0 0 0 0 0 0 0 0 0 0 0 0 0"/><feFuncG type="table" tableValues="0 0 0 0 0 0 0 0 0 0 0 0 0 0 0 0 0 0 0 0 0 0.0627 0.125 0.188 0.251 0.314 0.376 0.439 0.502 0.573 0.644 0.715 0.787 0.858 0.929 1 1 1 1 1 1 1 1 1 1 1 1 1 1 1 1 1 1 0.958 0.915 0.873 0.83 0.788 0.745 0.693 0.641 0.588 0.536 0.484 0.431 0.382 0.333 0.284 0.235 0.186 0.137 0.124 0.11 0.0961 0.0824 0.0686 0.0549 0.0412 0.0275 0.0137 0 0 0 0 0 0 0 0 0 0 0 0 0 0 0 0 0 0 0 0 0"/><feFuncB type="table" tableValues="0 0 0 0 0 0 0 0 0 0 0 0 0 0 0 0 0 0 0 0 0 0 0 0 0 0 0 0 0 0 0 0 0 0 0 0 0.0627 0.125 0.188 0.251 0.314 0.376 0.439 0.502 0.557 0.613 0.668 0.723 0.779 0.834 0.889 0.945 1 1 1 1 1 1 1 1 1 1 1 1 1 0.993 0.987 0.98 0.974 0.967 0.961 0.941 0.922 0.902 0.882 0.863 0.843 0.824 0.804 0.784 0.765 0.755 0.745 0.735 0.725 0.716 0.706 0.696 0.686 0.676 0.667 0.663 0.659 0.655 0.651 0.647 0.643 0.639 0.635 0.631 0.627"/></feComponentTransfer><feGaussianBlur stdDeviation="0.6"/></filter><clipPath id="ca3"><rect x="0" y="0" width="315" height="346"/></clipPath><linearGradient id="ga40" gradientUnits="userSpaceOnUse" x1="0" y1="0" x2="0" y2="346"><stop offset="0.0000" stop-color="#f2f2f2"/><stop offset="0.1084" stop-color="#f2f2f2"/><stop offset="0.1344" stop-color="#616161"/><stop offset="0.1344" stop-color="#616161"/><stop offset="0.1460" stop-color="#858585"/><stop offset="0.3974" stop-color="#858585"/><stop offset="0.4118" stop-color="#737373"/><stop offset="0.6142" stop-color="#737373"/><stop offset="0.6286" stop-color="#5e5e5e"/><stop offset="0.7442" stop-color="#5e5e5e"/><stop offset="0.7587" stop-color="#5c5c5c"/><stop offset="0.9682" stop-color="#5c5c5c"/><stop offset="0.9855" stop-color="#949494"/><stop offset="0.9942" stop-color="#a8a8a8"/><stop offset="1.0000" stop-color="#a8a8a8"/></linearGradient><linearGradient id="ga41" gradientUnits="userSpaceOnUse" x1="0" y1="0" x2="0" y2="346"><stop offset="0.0000" stop-color="#f2f2f2"/><stop offset="0.1257" stop-color="#f2f2f2"/><stop offset="0.1517" stop-color="#616161"/><stop offset="0.1517" stop-color="#616161"/><stop offset="0.1633" stop-color="#858585"/><stop offset="0.3974" stop-color="#858585"/><stop offset="0.4118" stop-color="#737373"/><stop offset="0.5997" stop-color="#737373"/><stop offset="0.6142" stop-color="#5f5f5f"/><stop offset="0.7153" stop-color="#5f5f5f"/><stop offset="0.7298" stop-color="#5a5a5a"/><stop offset="0.9682" stop-color="#5a5a5a"/><stop offset="0.9855" stop-color="#949494"/><stop offset="0.9942" stop-color="#a8a8a8"/><stop offset="1.0000" stop-color="#a8a8a8"/></linearGradient><linearGradient id="ga42" gradientUnits="userSpaceOnUse" x1="0" y1="0" x2="0" y2="346"><stop offset="0.0000" stop-color="#f2f2f2"/><stop offset="0.1431" stop-color="#f2f2f2"/><stop offset="0.1691" stop-color="#666666"/><stop offset="0.1691" stop-color="#666666"/><stop offset="0.1806" stop-color="#858585"/><stop offset="0.4552" stop-color="#858585"/><stop offset="0.4697" stop-color="#737373"/><stop offset="0.6286" stop-color="#737373"/><stop offset="0.6431" stop-color="#5e5e5e"/><stop offset="0.7442" stop-color="#5e5e5e"/><stop offset="0.7587" stop-color="#5e5e5e"/><stop offset="0.9682" stop-color="#5e5e5e"/><stop offset="0.9855" stop-color="#949494"/><stop offset="0.9942" stop-color="#a8a8a8"/><stop offset="1.0000" stop-color="#a8a8a8"/></linearGradient><linearGradient id="ga43" gradientUnits="userSpaceOnUse" x1="0" y1="0" x2="0" y2="346"><stop offset="0.0000" stop-color="#f2f2f2"/><stop offset="0.1604" stop-color="#f2f2f2"/><stop offset="0.1864" stop-color="#666666"/><stop offset="0.1864" stop-color="#666666"/><stop offset="0.1980" stop-color="#878787"/><stop offset="0.5708" stop-color="#878787"/><stop offset="0.5853" stop-color="#707070"/><stop offset="0.7153" stop-color="#707070"/><stop offset="0.7298" stop-color="#5f5f5f"/><stop offset="0.9682" stop-color="#5f5f5f"/><stop offset="0.9855" stop-color="#949494"/><stop offset="0.9942" stop-color="#a8a8a8"/><stop offset="1.0000" stop-color="#a8a8a8"/></linearGradient><linearGradient id="ga44" gradientUnits="userSpaceOnUse" x1="0" y1="0" x2="0" y2="346"><stop offset="0.0000" stop-color="#f2f2f2"/><stop offset="0.1720" stop-color="#f2f2f2"/><stop offset="0.1980" stop-color="#616161"/><stop offset="0.1980" stop-color="#616161"/><stop offset="0.2124" stop-color="#828282"/><stop offset="0.4263" stop-color="#828282"/><stop offset="0.4408" stop-color="#737373"/><stop offset="0.5708" stop-color="#737373"/><stop offset="0.5853" stop-color="#5b5b5b"/><stop offset="0.9682" stop-color="#5b5b5b"/><stop offset="0.9855" stop-color="#949494"/><stop offset="0.9942" stop-color="#a8a8a8"/><stop offset="1.0000" stop-color="#a8a8a8"/></linearGradient><linearGradient id="ga45" gradientUnits="userSpaceOnUse" x1="0" y1="0" x2="0" y2="346"><stop offset="0.0000" stop-color="#f2f2f2"/><stop offset="0.1691" stop-color="#f2f2f2"/><stop offset="0.1951" stop-color="#616161"/><stop offset="0.1951" stop-color="#616161"/><stop offset="0.2095" stop-color="#828282"/><stop offset="0.4841" stop-color="#828282"/><stop offset="0.4986" stop-color="#6b6b6b"/><stop offset="0.5853" stop-color="#6b6b6b"/><stop offset="0.5997" stop-color="#525252"/><stop offset="0.9682" stop-color="#525252"/><stop offset="0.9855" stop-color="#949494"/><stop offset="0.9942" stop-color="#a8a8a8"/><stop offset="1.0000" stop-color="#a8a8a8"/></linearGradient><linearGradient id="ga46" gradientUnits="userSpaceOnUse" x1="0" y1="0" x2="0" y2="346"><stop offset="0.0000" stop-color="#f2f2f2"/><stop offset="0.1517" stop-color="#f2f2f2"/><stop offset="0.1777" stop-color="#5e5e5e"/><stop offset="0.1835" stop-color="#5e5e5e"/><stop offset="0.1980" stop-color="#858585"/><stop offset="0.3685" stop-color="#858585"/><stop offset="0.3829" stop-color="#707070"/><stop offset="0.5419" stop-color="#707070"/><stop offset="0.5564" stop-color="#535353"/><stop offset="0.9682" stop-color="#535353"/><stop offset="0.9855" stop-color="#949494"/><stop offset="0.9942" stop-color="#a8a8a8"/><stop offset="1.0000" stop-color="#a8a8a8"/></linearGradient><linearGradient id="ga47" gradientUnits="userSpaceOnUse" x1="0" y1="0" x2="0" y2="346"><stop offset="0.0000" stop-color="#f2f2f2"/><stop offset="0.1402" stop-color="#f2f2f2"/><stop offset="0.1662" stop-color="#5e5e5e"/><stop offset="0.1720" stop-color="#5e5e5e"/><stop offset="0.1864" stop-color="#878787"/><stop offset="0.3396" stop-color="#878787"/><stop offset="0.3540" stop-color="#737373"/><stop offset="0.4841" stop-color="#737373"/><stop offset="0.4986" stop-color="#606060"/><stop offset="0.9682" stop-color="#606060"/><stop offset="0.9855" stop-color="#949494"/><stop offset="0.9942" stop-color="#a8a8a8"/><stop offset="1.0000" stop-color="#a8a8a8"/></linearGradient><linearGradient id="ga48" gradientUnits="userSpaceOnUse" x1="0" y1="0" x2="0" y2="346"><stop offset="0.0000" stop-color="#f2f2f2"/><stop offset="0.1402" stop-color="#f2f2f2"/><stop offset="0.1662" stop-color="#666666"/><stop offset="0.1662" stop-color="#666666"/><stop offset="0.1806" stop-color="#8c8c8c"/><stop offset="0.3396" stop-color="#8c8c8c"/><stop offset="0.3540" stop-color="#737373"/><stop offset="0.5130" stop-color="#737373"/><stop offset="0.5275" stop-color="#525252"/><stop offset="0.9682" stop-color="#525252"/><stop offset="0.9855" stop-color="#949494"/><stop offset="0.9942" stop-color="#a8a8a8"/><stop offset="1.0000" stop-color="#a8a8a8"/></linearGradient><linearGradient id="ga49" gradientUnits="userSpaceOnUse" x1="0" y1="0" x2="0" y2="346"><stop offset="0.0000" stop-color="#f2f2f2"/><stop offset="0.1373" stop-color="#f2f2f2"/><stop offset="0.1633" stop-color="#8c8c8c"/><stop offset="0.3396" stop-color="#8c8c8c"/><stop offset="0.3540" stop-color="#707070"/><stop offset="0.4841" stop-color="#707070"/><stop offset="0.4986" stop-color="#505050"/><stop offset="0.9682" stop-color="#505050"/><stop offset="0.9855" stop-color="#949494"/><stop offset="0.9942" stop-color="#a8a8a8"/><stop offset="1.0000" stop-color="#a8a8a8"/></linearGradient><linearGradient id="ga410" gradientUnits="userSpaceOnUse" x1="0" y1="0" x2="0" y2="346"><stop offset="0.0000" stop-color="#f2f2f2"/><stop offset="0.1315" stop-color="#f2f2f2"/><stop offset="0.1575" stop-color="#8c8c8c"/><stop offset="0.3425" stop-color="#8c8c8c"/><stop offset="0.3569" stop-color="#707070"/><stop offset="0.4552" stop-color="#707070"/><stop offset="0.4697" stop-color="#606060"/><stop offset="0.9682" stop-color="#606060"/><stop offset="0.9855" stop-color="#949494"/><stop offset="0.9942" stop-color="#a8a8a8"/><stop offset="1.0000" stop-color="#a8a8a8"/></linearGradient><linearGradient id="ga411" gradientUnits="userSpaceOnUse" x1="0" y1="0" x2="0" y2="346"><stop offset="0.0000" stop-color="#f2f2f2"/><stop offset="0.1142" stop-color="#f2f2f2"/><stop offset="0.1402" stop-color="#6e6e6e"/><stop offset="0.1662" stop-color="#6e6e6e"/><stop offset="0.1806" stop-color="#8a8a8a"/><stop offset="0.3974" stop-color="#8a8a8a"/><stop offset="0.4118" stop-color="#666666"/><stop offset="0.4408" stop-color="#666666"/><stop offset="0.4552" stop-color="#4e4e4e"/><stop offset="0.9682" stop-color="#4e4e4e"/><stop offset="0.9855" stop-color="#949494"/><stop offset="0.9942" stop-color="#a8a8a8"/><stop offset="1.0000" stop-color="#a8a8a8"/></linearGradient><linearGradient id="ga412" gradientUnits="userSpaceOnUse" x1="0" y1="0" x2="0" y2="346"><stop offset="0.0000" stop-color="#f2f2f2"/><stop offset="0.0824" stop-color="#f2f2f2"/><stop offset="0.1084" stop-color="#6b6b6b"/><stop offset="0.1546" stop-color="#6b6b6b"/><stop offset="0.1691" stop-color="#8a8a8a"/><stop offset="0.4090" stop-color="#8a8a8a"/><stop offset="0.4234" stop-color="#616161"/><stop offset="0.4552" stop-color="#616161"/><stop offset="0.4697" stop-color="#4d4d4d"/><stop offset="0.9682" stop-color="#4d4d4d"/><stop offset="0.9855" stop-color="#949494"/><stop offset="0.9942" stop-color="#a8a8a8"/><stop offset="1.0000" stop-color="#a8a8a8"/></linearGradient><linearGradient id="ga413" gradientUnits="userSpaceOnUse" x1="0" y1="0" x2="0" y2="346"><stop offset="0.0000" stop-color="#f2f2f2"/><stop offset="0.0824" stop-color="#f2f2f2"/><stop offset="0.1084" stop-color="#6b6b6b"/><stop offset="0.1546" stop-color="#6b6b6b"/><stop offset="0.1691" stop-color="#8a8a8a"/><stop offset="0.4090" stop-color="#8a8a8a"/><stop offset="0.4234" stop-color="#616161"/><stop offset="0.4552" stop-color="#616161"/><stop offset="0.4697" stop-color="#4d4d4d"/><stop offset="0.9682" stop-color="#4d4d4d"/><stop offset="0.9855" stop-color="#949494"/><stop offset="0.9942" stop-color="#a8a8a8"/><stop offset="1.0000" stop-color="#a8a8a8"/></linearGradient><filter id="bla4" filterUnits="userSpaceOnUse" x="-30" y="-30" width="375" height="406" color-interpolation-filters="sRGB"><feGaussianBlur stdDeviation="7 1.2"/></filter><radialGradient id="r70"><stop offset="0" stop-color="#b2b2b2"/><stop offset="0.55" stop-color="#b2b2b2" stop-opacity="0.85"/><stop offset="1" stop-color="#b2b2b2" stop-opacity="0"/></radialGradient><radialGradient id="r65"><stop offset="0" stop-color="#a6a6a6"/><stop offset="0.55" stop-color="#a6a6a6" stop-opacity="0.85"/><stop offset="1" stop-color="#a6a6a6" stop-opacity="0"/></radialGradient><radialGradient id="r28"><stop offset="0" stop-color="#4a4a4a"/><stop offset="0.55" stop-color="#4a4a4a" stop-opacity="0.85"/><stop offset="1" stop-color="#4a4a4a" stop-opacity="0"/></radialGradient><radialGradient id="r24"><stop offset="0" stop-color="#404040"/><stop offset="0.55" stop-color="#404040" stop-opacity="0.85"/><stop offset="1" stop-color="#404040" stop-opacity="0"/></radialGradient><filter id="ja4" filterUnits="userSpaceOnUse" x="-30" y="-30" width="375" height="406" color-interpolation-filters="sRGB" primitiveUnits="userSpaceOnUse"><feTurbulence type="fractalNoise" baseFrequency="0.17 0.045" numOctaves="3" seed="14" result="n0"/><feColorMatrix in="n0" type="matrix" values="1 0 0 0 0 1 0 0 0 0 1 0 0 0 0 0 0 0 0 1" result="n"/><feComposite in="SourceGraphic" in2="n" operator="arithmetic" k2="1" k3="0.55" k4="-0.275" result="s"/><feColorMatrix in="s" type="matrix" values="1 0 0 0 0 1 0 0 0 0 1 0 0 0 0 0 0 0 0 1"/><feComponentTransfer><feFuncR type="table" tableValues="0.502 0.527 0.552 0.577 0.602 0.626 0.651 0.676 0.701 0.726 0.751 0.776 0.801 0.826 0.851 0.875 0.9 0.925 0.95 0.975 1 1 1 1 1 1 1 1 1 1 1 1 1 1 1 1 0.938 0.875 0.813 0.751 0.689 0.626 0.564 0.502 0.446 0.39 0.335 0.279 0.223 0.167 0.112 0.0558 0 0 0 0 0 0 0 0 0 0 0 0 0 0 0 0 0 0 0 0 0 0 0 0 0 0 0 0 0 0 0 0 0 0 0 0 0 0 0 0 0 0 0 0 0 0 0 0 0"/><feFuncG type="table" tableValues="0 0 0 0 0 0 0 0 0 0 0 0 0 0 0 0 0 0 0 0 0 0.0627 0.125 0.188 0.251 0.314 0.376 0.439 0.502 0.573 0.644 0.715 0.787 0.858 0.929 1 1 1 1 1 1 1 1 1 1 1 1 1 1 1 1 1 1 0.958 0.915 0.873 0.83 0.788 0.745 0.693 0.641 0.588 0.536 0.484 0.431 0.382 0.333 0.284 0.235 0.186 0.137 0.124 0.11 0.0961 0.0824 0.0686 0.0549 0.0412 0.0275 0.0137 0 0 0 0 0 0 0 0 0 0 0 0 0 0 0 0 0 0 0 0 0"/><feFuncB type="table" tableValues="0 0 0 0 0 0 0 0 0 0 0 0 0 0 0 0 0 0 0 0 0 0 0 0 0 0 0 0 0 0 0 0 0 0 0 0 0.0627 0.125 0.188 0.251 0.314 0.376 0.439 0.502 0.557 0.613 0.668 0.723 0.779 0.834 0.889 0.945 1 1 1 1 1 1 1 1 1 1 1 1 1 0.993 0.987 0.98 0.974 0.967 0.961 0.941 0.922 0.902 0.882 0.863 0.843 0.824 0.804 0.784 0.765 0.755 0.745 0.735 0.725 0.716 0.706 0.696 0.686 0.676 0.667 0.663 0.659 0.655 0.651 0.647 0.643 0.639 0.635 0.631 0.627"/></feComponentTransfer><feGaussianBlur stdDeviation="0.6"/></filter><clipPath id="ca4"><rect x="0" y="0" width="315" height="346"/></clipPath><linearGradient id="gb40" gradientUnits="userSpaceOnUse" x1="0" y1="0" x2="0" y2="313.5"><stop offset="0.0000" stop-color="#f2f2f2"/><stop offset="0.1037" stop-color="#f2f2f2"/><stop offset="0.1324" stop-color="#6b6b6b"/><stop offset="0.2536" stop-color="#6b6b6b"/><stop offset="0.2695" stop-color="#878787"/><stop offset="0.9585" stop-color="#878787"/><stop offset="0.9777" stop-color="#949494"/><stop offset="0.9936" stop-color="#adadad"/><stop offset="1.0000" stop-color="#adadad"/></linearGradient><linearGradient id="gb41" gradientUnits="userSpaceOnUse" x1="0" y1="0" x2="0" y2="313.5"><stop offset="0.0000" stop-color="#f2f2f2"/><stop offset="0.1308" stop-color="#f2f2f2"/><stop offset="0.1595" stop-color="#6b6b6b"/><stop offset="0.2711" stop-color="#6b6b6b"/><stop offset="0.2871" stop-color="#878787"/><stop offset="0.9585" stop-color="#878787"/><stop offset="0.9777" stop-color="#949494"/><stop offset="0.9936" stop-color="#adadad"/><stop offset="1.0000" stop-color="#adadad"/></linearGradient><linearGradient id="gb42" gradientUnits="userSpaceOnUse" x1="0" y1="0" x2="0" y2="313.5"><stop offset="0.0000" stop-color="#f2f2f2"/><stop offset="0.1579" stop-color="#f2f2f2"/><stop offset="0.1866" stop-color="#666666"/><stop offset="0.2472" stop-color="#666666"/><stop offset="0.2632" stop-color="#858585"/><stop offset="0.3110" stop-color="#858585"/><stop offset="0.3270" stop-color="#999999"/><stop offset="0.3684" stop-color="#999999"/><stop offset="0.3844" stop-color="#787878"/><stop offset="0.4386" stop-color="#787878"/><stop offset="0.4545" stop-color="#999999"/><stop offset="0.5183" stop-color="#999999"/><stop offset="0.5343" stop-color="#808080"/><stop offset="0.5981" stop-color="#808080"/><stop offset="0.6140" stop-color="#999999"/><stop offset="0.6778" stop-color="#999999"/><stop offset="0.6938" stop-color="#7a7a7a"/><stop offset="0.7735" stop-color="#7a7a7a"/><stop offset="0.7895" stop-color="#949494"/><stop offset="0.8533" stop-color="#949494"/><stop offset="0.8692" stop-color="#808080"/><stop offset="0.9585" stop-color="#808080"/><stop offset="0.9777" stop-color="#949494"/><stop offset="0.9936" stop-color="#adadad"/><stop offset="1.0000" stop-color="#adadad"/></linearGradient><linearGradient id="gb43" gradientUnits="userSpaceOnUse" x1="0" y1="0" x2="0" y2="313.5"><stop offset="0.0000" stop-color="#f2f2f2"/><stop offset="0.1707" stop-color="#f2f2f2"/><stop offset="0.1994" stop-color="#666666"/><stop offset="0.2472" stop-color="#666666"/><stop offset="0.2632" stop-color="#858585"/><stop offset="0.3110" stop-color="#858585"/><stop offset="0.3270" stop-color="#999999"/><stop offset="0.3684" stop-color="#999999"/><stop offset="0.3844" stop-color="#787878"/><stop offset="0.4386" stop-color="#787878"/><stop offset="0.4545" stop-color="#999999"/><stop offset="0.5183" stop-color="#999999"/><stop offset="0.5343" stop-color="#808080"/><stop offset="0.5981" stop-color="#808080"/><stop offset="0.6140" stop-color="#999999"/><stop offset="0.6778" stop-color="#999999"/><stop offset="0.6938" stop-color="#7a7a7a"/><stop offset="0.7735" stop-color="#7a7a7a"/><stop offset="0.7895" stop-color="#949494"/><stop offset="0.8533" stop-color="#949494"/><stop offset="0.8692" stop-color="#808080"/><stop offset="0.9585" stop-color="#808080"/><stop offset="0.9777" stop-color="#949494"/><stop offset="0.9936" stop-color="#adadad"/><stop offset="1.0000" stop-color="#adadad"/></linearGradient><filter id="blb4" filterUnits="userSpaceOnUse" x="-30" y="-30" width="285.2" height="373.5" color-interpolation-filters="sRGB"><feGaussianBlur stdDeviation="7 1.2"/></filter><radialGradient id="r25"><stop offset="0" stop-color="#434343"/><stop offset="0.55" stop-color="#434343" stop-opacity="0.85"/><stop offset="1" stop-color="#434343" stop-opacity="0"/></radialGradient><radialGradient id="r22"><stop offset="0" stop-color="#3b3b3b"/><stop offset="0.55" stop-color="#3b3b3b" stop-opacity="0.85"/><stop offset="1" stop-color="#3b3b3b" stop-opacity="0"/></radialGradient><filter id="jb4" filterUnits="userSpaceOnUse" x="-30" y="-30" width="285.2" height="373.5" color-interpolation-filters="sRGB" primitiveUnits="userSpaceOnUse"><feTurbulence type="fractalNoise" baseFrequency="0.17 0.045" numOctaves="3" seed="34" result="n0"/><feColorMatrix in="n0" type="matrix" values="1 0 0 0 0 1 0 0 0 0 1 0 0 0 0 0 0 0 0 1" result="n"/><feComposite in="SourceGraphic" in2="n" operator="arithmetic" k2="1" k3="0.55" k4="-0.275" result="s"/><feColorMatrix in="s" type="matrix" values="1 0 0 0 0 1 0 0 0 0 1 0 0 0 0 0 0 0 0 1"/><feComponentTransfer><feFuncR type="table" tableValues="0.502 0.527 0.552 0.577 0.602 0.626 0.651 0.676 0.701 0.726 0.751 0.776 0.801 0.826 0.851 0.875 0.9 0.925 0.95 0.975 1 1 1 1 1 1 1 1 1 1 1 1 1 1 1 1 0.938 0.875 0.813 0.751 0.689 0.626 0.564 0.502 0.446 0.39 0.335 0.279 0.223 0.167 0.112 0.0558 0 0 0 0 0 0 0 0 0 0 0 0 0 0 0 0 0 0 0 0 0 0 0 0 0 0 0 0 0 0 0 0 0 0 0 0 0 0 0 0 0 0 0 0 0 0 0 0 0"/><feFuncG type="table" tableValues="0 0 0 0 0 0 0 0 0 0 0 0 0 0 0 0 0 0 0 0 0 0.0627 0.125 0.188 0.251 0.314 0.376 0.439 0.502 0.573 0.644 0.715 0.787 0.858 0.929 1 1 1 1 1 1 1 1 1 1 1 1 1 1 1 1 1 1 0.958 0.915 0.873 0.83 0.788 0.745 0.693 0.641 0.588 0.536 0.484 0.431 0.382 0.333 0.284 0.235 0.186 0.137 0.124 0.11 0.0961 0.0824 0.0686 0.0549 0.0412 0.0275 0.0137 0 0 0 0 0 0 0 0 0 0 0 0 0 0 0 0 0 0 0 0 0"/><feFuncB type="table" tableValues="0 0 0 0 0 0 0 0 0 0 0 0 0 0 0 0 0 0 0 0 0 0 0 0 0 0 0 0 0 0 0 0 0 0 0 0 0.0627 0.125 0.188 0.251 0.314 0.376 0.439 0.502 0.557 0.613 0.668 0.723 0.779 0.834 0.889 0.945 1 1 1 1 1 1 1 1 1 1 1 1 1 0.993 0.987 0.98 0.974 0.967 0.961 0.941 0.922 0.902 0.882 0.863 0.843 0.824 0.804 0.784 0.765 0.755 0.745 0.735 0.725 0.716 0.706 0.696 0.686 0.676 0.667 0.663 0.659 0.655 0.651 0.647 0.643 0.639 0.635 0.631 0.627"/></feComponentTransfer><feGaussianBlur stdDeviation="0.6"/></filter><clipPath id="cb4"><rect x="0" y="0" width="225.2" height="313.5"/></clipPath><linearGradient id="gb30" gradientUnits="userSpaceOnUse" x1="0" y1="0" x2="0" y2="313.5"><stop offset="0.0000" stop-color="#f2f2f2"/><stop offset="0.1132" stop-color="#f2f2f2"/><stop offset="0.1419" stop-color="#6b6b6b"/><stop offset="0.2632" stop-color="#6b6b6b"/><stop offset="0.2791" stop-color="#878787"/><stop offset="0.9585" stop-color="#878787"/><stop offset="0.9777" stop-color="#949494"/><stop offset="0.9936" stop-color="#adadad"/><stop offset="1.0000" stop-color="#adadad"/></linearGradient><linearGradient id="gb31" gradientUnits="userSpaceOnUse" x1="0" y1="0" x2="0" y2="313.5"><stop offset="0.0000" stop-color="#f2f2f2"/><stop offset="0.1356" stop-color="#f2f2f2"/><stop offset="0.1643" stop-color="#6b6b6b"/><stop offset="0.2759" stop-color="#6b6b6b"/><stop offset="0.2919" stop-color="#878787"/><stop offset="0.9585" stop-color="#878787"/><stop offset="0.9777" stop-color="#949494"/><stop offset="0.9936" stop-color="#adadad"/><stop offset="1.0000" stop-color="#adadad"/></linearGradient><linearGradient id="gb32" gradientUnits="userSpaceOnUse" x1="0" y1="0" x2="0" y2="313.5"><stop offset="0.0000" stop-color="#f2f2f2"/><stop offset="0.1579" stop-color="#f2f2f2"/><stop offset="0.1866" stop-color="#666666"/><stop offset="0.2791" stop-color="#666666"/><stop offset="0.2951" stop-color="#858585"/><stop offset="0.4386" stop-color="#858585"/><stop offset="0.4545" stop-color="#666666"/><stop offset="0.8214" stop-color="#666666"/><stop offset="0.8373" stop-color="#808080"/><stop offset="0.9585" stop-color="#808080"/><stop offset="0.9777" stop-color="#949494"/><stop offset="0.9936" stop-color="#adadad"/><stop offset="1.0000" stop-color="#adadad"/></linearGradient><linearGradient id="gb33" gradientUnits="userSpaceOnUse" x1="0" y1="0" x2="0" y2="313.5"><stop offset="0.0000" stop-color="#f2f2f2"/><stop offset="0.1707" stop-color="#f2f2f2"/><stop offset="0.1994" stop-color="#666666"/><stop offset="0.2791" stop-color="#666666"/><stop offset="0.2951" stop-color="#858585"/><stop offset="0.4386" stop-color="#858585"/><stop offset="0.4545" stop-color="#666666"/><stop offset="0.8214" stop-color="#666666"/><stop offset="0.8373" stop-color="#808080"/><stop offset="0.9585" stop-color="#808080"/><stop offset="0.9777" stop-color="#949494"/><stop offset="0.9936" stop-color="#adadad"/><stop offset="1.0000" stop-color="#adadad"/></linearGradient><filter id="blb3" filterUnits="userSpaceOnUse" x="-30" y="-30" width="285.2" height="373.5" color-interpolation-filters="sRGB"><feGaussianBlur stdDeviation="7 1.2"/></filter><radialGradient id="r30"><stop offset="0" stop-color="#505050"/><stop offset="0.55" stop-color="#505050" stop-opacity="0.85"/><stop offset="1" stop-color="#505050" stop-opacity="0"/></radialGradient><filter id="jb3" filterUnits="userSpaceOnUse" x="-30" y="-30" width="285.2" height="373.5" color-interpolation-filters="sRGB" primitiveUnits="userSpaceOnUse"><feTurbulence type="fractalNoise" baseFrequency="0.17 0.045" numOctaves="3" seed="33" result="n0"/><feColorMatrix in="n0" type="matrix" values="1 0 0 0 0 1 0 0 0 0 1 0 0 0 0 0 0 0 0 1" result="n"/><feComposite in="SourceGraphic" in2="n" operator="arithmetic" k2="1" k3="0.55" k4="-0.275" result="s"/><feColorMatrix in="s" type="matrix" values="1 0 0 0 0 1 0 0 0 0 1 0 0 0 0 0 0 0 0 1"/><feComponentTransfer><feFuncR type="table" tableValues="0.502 0.527 0.552 0.577 0.602 0.626 0.651 0.676 0.701 0.726 0.751 0.776 0.801 0.826 0.851 0.875 0.9 0.925 0.95 0.975 1 1 1 1 1 1 1 1 1 1 1 1 1 1 1 1 0.938 0.875 0.813 0.751 0.689 0.626 0.564 0.502 0.446 0.39 0.335 0.279 0.223 0.167 0.112 0.0558 0 0 0 0 0 0 0 0 0 0 0 0 0 0 0 0 0 0 0 0 0 0 0 0 0 0 0 0 0 0 0 0 0 0 0 0 0 0 0 0 0 0 0 0 0 0 0 0 0"/><feFuncG type="table" tableValues="0 0 0 0 0 0 0 0 0 0 0 0 0 0 0 0 0 0 0 0 0 0.0627 0.125 0.188 0.251 0.314 0.376 0.439 0.502 0.573 0.644 0.715 0.787 0.858 0.929 1 1 1 1 1 1 1 1 1 1 1 1 1 1 1 1 1 1 0.958 0.915 0.873 0.83 0.788 0.745 0.693 0.641 0.588 0.536 0.484 0.431 0.382 0.333 0.284 0.235 0.186 0.137 0.124 0.11 0.0961 0.0824 0.0686 0.0549 0.0412 0.0275 0.0137 0 0 0 0 0 0 0 0 0 0 0 0 0 0 0 0 0 0 0 0 0"/><feFuncB type="table" tableValues="0 0 0 0 0 0 0 0 0 0 0 0 0 0 0 0 0 0 0 0 0 0 0 0 0 0 0 0 0 0 0 0 0 0 0 0 0.0627 0.125 0.188 0.251 0.314 0.376 0.439 0.502 0.557 0.613 0.668 0.723 0.779 0.834 0.889 0.945 1 1 1 1 1 1 1 1 1 1 1 1 1 0.993 0.987 0.98 0.974 0.967 0.961 0.941 0.922 0.902 0.882 0.863 0.843 0.824 0.804 0.784 0.765 0.755 0.745 0.735 0.725 0.716 0.706 0.696 0.686 0.676 0.667 0.663 0.659 0.655 0.651 0.647 0.643 0.639 0.635 0.631 0.627"/></feComponentTransfer><feGaussianBlur stdDeviation="0.6"/></filter><clipPath id="cb3"><rect x="0" y="0" width="225.2" height="313.5"/></clipPath><linearGradient id="gb20" gradientUnits="userSpaceOnUse" x1="0" y1="0" x2="0" y2="313.5"><stop offset="0.0000" stop-color="#f2f2f2"/><stop offset="0.1164" stop-color="#f2f2f2"/><stop offset="0.1451" stop-color="#6b6b6b"/><stop offset="0.2663" stop-color="#6b6b6b"/><stop offset="0.2823" stop-color="#878787"/><stop offset="0.9585" stop-color="#878787"/><stop offset="0.9777" stop-color="#949494"/><stop offset="0.9936" stop-color="#adadad"/><stop offset="1.0000" stop-color="#adadad"/></linearGradient><linearGradient id="gb21" gradientUnits="userSpaceOnUse" x1="0" y1="0" x2="0" y2="313.5"><stop offset="0.0000" stop-color="#f2f2f2"/><stop offset="0.1531" stop-color="#f2f2f2"/><stop offset="0.1818" stop-color="#6b6b6b"/><stop offset="0.2935" stop-color="#6b6b6b"/><stop offset="0.3094" stop-color="#878787"/><stop offset="0.9585" stop-color="#878787"/><stop offset="0.9777" stop-color="#949494"/><stop offset="0.9936" stop-color="#adadad"/><stop offset="1.0000" stop-color="#adadad"/></linearGradient><linearGradient id="gb22" gradientUnits="userSpaceOnUse" x1="0" y1="0" x2="0" y2="313.5"><stop offset="0.0000" stop-color="#f2f2f2"/><stop offset="0.1898" stop-color="#f2f2f2"/><stop offset="0.2185" stop-color="#666666"/><stop offset="0.3110" stop-color="#666666"/><stop offset="0.3270" stop-color="#878787"/><stop offset="0.4705" stop-color="#878787"/><stop offset="0.4864" stop-color="#6b6b6b"/><stop offset="0.9585" stop-color="#6b6b6b"/><stop offset="0.9777" stop-color="#949494"/><stop offset="0.9936" stop-color="#adadad"/><stop offset="1.0000" stop-color="#adadad"/></linearGradient><linearGradient id="gb23" gradientUnits="userSpaceOnUse" x1="0" y1="0" x2="0" y2="313.5"><stop offset="0.0000" stop-color="#f2f2f2"/><stop offset="0.2026" stop-color="#f2f2f2"/><stop offset="0.2313" stop-color="#666666"/><stop offset="0.3110" stop-color="#666666"/><stop offset="0.3270" stop-color="#878787"/><stop offset="0.4705" stop-color="#878787"/><stop offset="0.4864" stop-color="#6b6b6b"/><stop offset="0.9585" stop-color="#6b6b6b"/><stop offset="0.9777" stop-color="#949494"/><stop offset="0.9936" stop-color="#adadad"/><stop offset="1.0000" stop-color="#adadad"/></linearGradient><filter id="blb2" filterUnits="userSpaceOnUse" x="-30" y="-30" width="285.2" height="373.5" color-interpolation-filters="sRGB"><feGaussianBlur stdDeviation="7 1.2"/></filter><filter id="jb2" filterUnits="userSpaceOnUse" x="-30" y="-30" width="285.2" height="373.5" color-interpolation-filters="sRGB" primitiveUnits="userSpaceOnUse"><feTurbulence type="fractalNoise" baseFrequency="0.17 0.045" numOctaves="3" seed="32" result="n0"/><feColorMatrix in="n0" type="matrix" values="1 0 0 0 0 1 0 0 0 0 1 0 0 0 0 0 0 0 0 1" result="n"/><feComposite in="SourceGraphic" in2="n" operator="arithmetic" k2="1" k3="0.55" k4="-0.275" result="s"/><feColorMatrix in="s" type="matrix" values="1 0 0 0 0 1 0 0 0 0 1 0 0 0 0 0 0 0 0 1"/><feComponentTransfer><feFuncR type="table" tableValues="0.502 0.527 0.552 0.577 0.602 0.626 0.651 0.676 0.701 0.726 0.751 0.776 0.801 0.826 0.851 0.875 0.9 0.925 0.95 0.975 1 1 1 1 1 1 1 1 1 1 1 1 1 1 1 1 0.938 0.875 0.813 0.751 0.689 0.626 0.564 0.502 0.446 0.39 0.335 0.279 0.223 0.167 0.112 0.0558 0 0 0 0 0 0 0 0 0 0 0 0 0 0 0 0 0 0 0 0 0 0 0 0 0 0 0 0 0 0 0 0 0 0 0 0 0 0 0 0 0 0 0 0 0 0 0 0 0"/><feFuncG type="table" tableValues="0 0 0 0 0 0 0 0 0 0 0 0 0 0 0 0 0 0 0 0 0 0.0627 0.125 0.188 0.251 0.314 0.376 0.439 0.502 0.573 0.644 0.715 0.787 0.858 0.929 1 1 1 1 1 1 1 1 1 1 1 1 1 1 1 1 1 1 0.958 0.915 0.873 0.83 0.788 0.745 0.693 0.641 0.588 0.536 0.484 0.431 0.382 0.333 0.284 0.235 0.186 0.137 0.124 0.11 0.0961 0.0824 0.0686 0.0549 0.0412 0.0275 0.0137 0 0 0 0 0 0 0 0 0 0 0 0 0 0 0 0 0 0 0 0 0"/><feFuncB type="table" tableValues="0 0 0 0 0 0 0 0 0 0 0 0 0 0 0 0 0 0 0 0 0 0 0 0 0 0 0 0 0 0 0 0 0 0 0 0 0.0627 0.125 0.188 0.251 0.314 0.376 0.439 0.502 0.557 0.613 0.668 0.723 0.779 0.834 0.889 0.945 1 1 1 1 1 1 1 1 1 1 1 1 1 0.993 0.987 0.98 0.974 0.967 0.961 0.941 0.922 0.902 0.882 0.863 0.843 0.824 0.804 0.784 0.765 0.755 0.745 0.735 0.725 0.716 0.706 0.696 0.686 0.676 0.667 0.663 0.659 0.655 0.651 0.647 0.643 0.639 0.635 0.631 0.627"/></feComponentTransfer><feGaussianBlur stdDeviation="0.6"/></filter><clipPath id="cb2"><rect x="0" y="0" width="225.2" height="313.5"/></clipPath><linearGradient id="gb10" gradientUnits="userSpaceOnUse" x1="0" y1="0" x2="0" y2="313.5"><stop offset="0.0000" stop-color="#f2f2f2"/><stop offset="0.1164" stop-color="#f2f2f2"/><stop offset="0.1451" stop-color="#6b6b6b"/><stop offset="0.2663" stop-color="#6b6b6b"/><stop offset="0.2823" stop-color="#878787"/><stop offset="0.9585" stop-color="#878787"/><stop offset="0.9777" stop-color="#949494"/><stop offset="0.9936" stop-color="#adadad"/><stop offset="1.0000" stop-color="#adadad"/></linearGradient><linearGradient id="gb11" gradientUnits="userSpaceOnUse" x1="0" y1="0" x2="0" y2="313.5"><stop offset="0.0000" stop-color="#f2f2f2"/><stop offset="0.1435" stop-color="#f2f2f2"/><stop offset="0.1722" stop-color="#6b6b6b"/><stop offset="0.2839" stop-color="#6b6b6b"/><stop offset="0.2998" stop-color="#878787"/><stop offset="0.9585" stop-color="#878787"/><stop offset="0.9777" stop-color="#949494"/><stop offset="0.9936" stop-color="#adadad"/><stop offset="1.0000" stop-color="#adadad"/></linearGradient><linearGradient id="gb12" gradientUnits="userSpaceOnUse" x1="0" y1="0" x2="0" y2="313.5"><stop offset="0.0000" stop-color="#f2f2f2"/><stop offset="0.1707" stop-color="#f2f2f2"/><stop offset="0.1994" stop-color="#6b6b6b"/><stop offset="0.2791" stop-color="#6b6b6b"/><stop offset="0.2951" stop-color="#878787"/><stop offset="0.4067" stop-color="#878787"/><stop offset="0.4226" stop-color="#5c5c5c"/><stop offset="0.9585" stop-color="#5c5c5c"/><stop offset="0.9777" stop-color="#949494"/><stop offset="0.9936" stop-color="#adadad"/><stop offset="1.0000" stop-color="#adadad"/></linearGradient><linearGradient id="gb13" gradientUnits="userSpaceOnUse" x1="0" y1="0" x2="0" y2="313.5"><stop offset="0.0000" stop-color="#f2f2f2"/><stop offset="0.1834" stop-color="#f2f2f2"/><stop offset="0.2121" stop-color="#6b6b6b"/><stop offset="0.2791" stop-color="#6b6b6b"/><stop offset="0.2951" stop-color="#878787"/><stop offset="0.4067" stop-color="#878787"/><stop offset="0.4226" stop-color="#5c5c5c"/><stop offset="0.9585" stop-color="#5c5c5c"/><stop offset="0.9777" stop-color="#949494"/><stop offset="0.9936" stop-color="#adadad"/><stop offset="1.0000" stop-color="#adadad"/></linearGradient><filter id="blb1" filterUnits="userSpaceOnUse" x="-30" y="-30" width="285.2" height="373.5" color-interpolation-filters="sRGB"><feGaussianBlur stdDeviation="7 1.2"/></filter><filter id="jb1" filterUnits="userSpaceOnUse" x="-30" y="-30" width="285.2" height="373.5" color-interpolation-filters="sRGB" primitiveUnits="userSpaceOnUse"><feTurbulence type="fractalNoise" baseFrequency="0.17 0.045" numOctaves="3" seed="31" result="n0"/><feColorMatrix in="n0" type="matrix" values="1 0 0 0 0 1 0 0 0 0 1 0 0 0 0 0 0 0 0 1" result="n"/><feComposite in="SourceGraphic" in2="n" operator="arithmetic" k2="1" k3="0.55" k4="-0.275" result="s"/><feColorMatrix in="s" type="matrix" values="1 0 0 0 0 1 0 0 0 0 1 0 0 0 0 0 0 0 0 1"/><feComponentTransfer><feFuncR type="table" tableValues="0.502 0.527 0.552 0.577 0.602 0.626 0.651 0.676 0.701 0.726 0.751 0.776 0.801 0.826 0.851 0.875 0.9 0.925 0.95 0.975 1 1 1 1 1 1 1 1 1 1 1 1 1 1 1 1 0.938 0.875 0.813 0.751 0.689 0.626 0.564 0.502 0.446 0.39 0.335 0.279 0.223 0.167 0.112 0.0558 0 0 0 0 0 0 0 0 0 0 0 0 0 0 0 0 0 0 0 0 0 0 0 0 0 0 0 0 0 0 0 0 0 0 0 0 0 0 0 0 0 0 0 0 0 0 0 0 0"/><feFuncG type="table" tableValues="0 0 0 0 0 0 0 0 0 0 0 0 0 0 0 0 0 0 0 0 0 0.0627 0.125 0.188 0.251 0.314 0.376 0.439 0.502 0.573 0.644 0.715 0.787 0.858 0.929 1 1 1 1 1 1 1 1 1 1 1 1 1 1 1 1 1 1 0.958 0.915 0.873 0.83 0.788 0.745 0.693 0.641 0.588 0.536 0.484 0.431 0.382 0.333 0.284 0.235 0.186 0.137 0.124 0.11 0.0961 0.0824 0.0686 0.0549 0.0412 0.0275 0.0137 0 0 0 0 0 0 0 0 0 0 0 0 0 0 0 0 0 0 0 0 0"/><feFuncB type="table" tableValues="0 0 0 0 0 0 0 0 0 0 0 0 0 0 0 0 0 0 0 0 0 0 0 0 0 0 0 0 0 0 0 0 0 0 0 0 0.0627 0.125 0.188 0.251 0.314 0.376 0.439 0.502 0.557 0.613 0.668 0.723 0.779 0.834 0.889 0.945 1 1 1 1 1 1 1 1 1 1 1 1 1 0.993 0.987 0.98 0.974 0.967 0.961 0.941 0.922 0.902 0.882 0.863 0.843 0.824 0.804 0.784 0.765 0.755 0.745 0.735 0.725 0.716 0.706 0.696 0.686 0.676 0.667 0.663 0.659 0.655 0.651 0.647 0.643 0.639 0.635 0.631 0.627"/></feComponentTransfer><feGaussianBlur stdDeviation="0.6"/></filter><clipPath id="cb1"><rect x="0" y="0" width="225.2" height="313.5"/></clipPath><linearGradient id="gb00" gradientUnits="userSpaceOnUse" x1="0" y1="0" x2="0" y2="313.5"><stop offset="0.0000" stop-color="#f2f2f2"/><stop offset="0.1196" stop-color="#f2f2f2"/><stop offset="0.1483" stop-color="#6b6b6b"/><stop offset="0.2217" stop-color="#6b6b6b"/><stop offset="0.2376" stop-color="#858585"/><stop offset="0.2951" stop-color="#858585"/><stop offset="0.3110" stop-color="#999999"/><stop offset="0.3589" stop-color="#999999"/><stop offset="0.3748" stop-color="#787878"/><stop offset="0.4386" stop-color="#787878"/><stop offset="0.4545" stop-color="#999999"/><stop offset="0.5183" stop-color="#999999"/><stop offset="0.5343" stop-color="#808080"/><stop offset="0.5821" stop-color="#808080"/><stop offset="0.5981" stop-color="#949494"/><stop offset="0.6619" stop-color="#949494"/><stop offset="0.6778" stop-color="#6b6b6b"/><stop offset="0.7735" stop-color="#6b6b6b"/><stop offset="0.7895" stop-color="#575757"/><stop offset="0.9490" stop-color="#575757"/><stop offset="0.9681" stop-color="#949494"/><stop offset="0.9936" stop-color="#b8b8b8"/><stop offset="1.0000" stop-color="#b8b8b8"/></linearGradient><linearGradient id="gb01" gradientUnits="userSpaceOnUse" x1="0" y1="0" x2="0" y2="313.5"><stop offset="0.0000" stop-color="#f2f2f2"/><stop offset="0.1228" stop-color="#f2f2f2"/><stop offset="0.1515" stop-color="#6b6b6b"/><stop offset="0.2217" stop-color="#6b6b6b"/><stop offset="0.2376" stop-color="#858585"/><stop offset="0.2951" stop-color="#858585"/><stop offset="0.3110" stop-color="#999999"/><stop offset="0.3589" stop-color="#999999"/><stop offset="0.3748" stop-color="#7a7a7a"/><stop offset="0.4386" stop-color="#7a7a7a"/><stop offset="0.4545" stop-color="#9c9c9c"/><stop offset="0.5183" stop-color="#9c9c9c"/><stop offset="0.5343" stop-color="#858585"/><stop offset="0.5821" stop-color="#858585"/><stop offset="0.5981" stop-color="#999999"/><stop offset="0.6619" stop-color="#999999"/><stop offset="0.6778" stop-color="#6b6b6b"/><stop offset="0.7321" stop-color="#6b6b6b"/><stop offset="0.7480" stop-color="#555555"/><stop offset="0.9522" stop-color="#555555"/><stop offset="0.9713" stop-color="#949494"/><stop offset="0.9936" stop-color="#b8b8b8"/><stop offset="1.0000" stop-color="#b8b8b8"/></linearGradient><linearGradient id="gb02" gradientUnits="userSpaceOnUse" x1="0" y1="0" x2="0" y2="313.5"><stop offset="0.0000" stop-color="#f2f2f2"/><stop offset="0.1260" stop-color="#f2f2f2"/><stop offset="0.1547" stop-color="#6b6b6b"/><stop offset="0.2281" stop-color="#6b6b6b"/><stop offset="0.2440" stop-color="#858585"/><stop offset="0.3014" stop-color="#858585"/><stop offset="0.3174" stop-color="#9c9c9c"/><stop offset="0.3652" stop-color="#9c9c9c"/><stop offset="0.3812" stop-color="#808080"/><stop offset="0.4386" stop-color="#808080"/><stop offset="0.4545" stop-color="#9e9e9e"/><stop offset="0.5183" stop-color="#9e9e9e"/><stop offset="0.5343" stop-color="#878787"/><stop offset="0.5821" stop-color="#878787"/><stop offset="0.5981" stop-color="#999999"/><stop offset="0.6459" stop-color="#999999"/><stop offset="0.6619" stop-color="#6b6b6b"/><stop offset="0.6938" stop-color="#6b6b6b"/><stop offset="0.7097" stop-color="#555555"/><stop offset="0.9553" stop-color="#555555"/><stop offset="0.9745" stop-color="#949494"/><stop offset="0.9936" stop-color="#b8b8b8"/><stop offset="1.0000" stop-color="#b8b8b8"/></linearGradient><linearGradient id="gb03" gradientUnits="userSpaceOnUse" x1="0" y1="0" x2="0" y2="313.5"><stop offset="0.0000" stop-color="#f2f2f2"/><stop offset="0.1164" stop-color="#f2f2f2"/><stop offset="0.1451" stop-color="#6b6b6b"/><stop offset="0.2217" stop-color="#6b6b6b"/><stop offset="0.2376" stop-color="#858585"/><stop offset="0.2951" stop-color="#858585"/><stop offset="0.3110" stop-color="#9c9c9c"/><stop offset="0.3652" stop-color="#9c9c9c"/><stop offset="0.3812" stop-color="#7d7d7d"/><stop offset="0.4386" stop-color="#7d7d7d"/><stop offset="0.4545" stop-color="#9e9e9e"/><stop offset="0.5183" stop-color="#9e9e9e"/><stop offset="0.5343" stop-color="#878787"/><stop offset="0.5821" stop-color="#878787"/><stop offset="0.5981" stop-color="#949494"/><stop offset="0.6459" stop-color="#949494"/><stop offset="0.6619" stop-color="#5f5f5f"/><stop offset="0.9585" stop-color="#5f5f5f"/><stop offset="0.9777" stop-color="#949494"/><stop offset="0.9936" stop-color="#b8b8b8"/><stop offset="1.0000" stop-color="#b8b8b8"/></linearGradient><linearGradient id="gb04" gradientUnits="userSpaceOnUse" x1="0" y1="0" x2="0" y2="313.5"><stop offset="0.0000" stop-color="#f2f2f2"/><stop offset="0.1196" stop-color="#f2f2f2"/><stop offset="0.1483" stop-color="#6b6b6b"/><stop offset="0.2153" stop-color="#6b6b6b"/><stop offset="0.2313" stop-color="#858585"/><stop offset="0.2951" stop-color="#858585"/><stop offset="0.3110" stop-color="#9c9c9c"/><stop offset="0.3652" stop-color="#9c9c9c"/><stop offset="0.3812" stop-color="#808080"/><stop offset="0.4386" stop-color="#808080"/><stop offset="0.4545" stop-color="#9e9e9e"/><stop offset="0.5183" stop-color="#9e9e9e"/><stop offset="0.5343" stop-color="#8c8c8c"/><stop offset="0.5821" stop-color="#8c8c8c"/><stop offset="0.5981" stop-color="#999999"/><stop offset="0.6619" stop-color="#999999"/><stop offset="0.6778" stop-color="#6e6e6e"/><stop offset="0.9617" stop-color="#6e6e6e"/><stop offset="0.9809" stop-color="#949494"/><stop offset="0.9936" stop-color="#b8b8b8"/><stop offset="1.0000" stop-color="#b8b8b8"/></linearGradient><linearGradient id="gb05" gradientUnits="userSpaceOnUse" x1="0" y1="0" x2="0" y2="313.5"><stop offset="0.0000" stop-color="#f2f2f2"/><stop offset="0.1356" stop-color="#f2f2f2"/><stop offset="0.1643" stop-color="#6b6b6b"/><stop offset="0.2217" stop-color="#6b6b6b"/><stop offset="0.2376" stop-color="#878787"/><stop offset="0.2951" stop-color="#878787"/><stop offset="0.3110" stop-color="#9e9e9e"/><stop offset="0.3652" stop-color="#9e9e9e"/><stop offset="0.3812" stop-color="#808080"/><stop offset="0.4386" stop-color="#808080"/><stop offset="0.4545" stop-color="#9e9e9e"/><stop offset="0.5183" stop-color="#9e9e9e"/><stop offset="0.5343" stop-color="#8c8c8c"/><stop offset="0.5821" stop-color="#8c8c8c"/><stop offset="0.5981" stop-color="#999999"/><stop offset="0.6459" stop-color="#999999"/><stop offset="0.6619" stop-color="#696969"/><stop offset="0.9617" stop-color="#696969"/><stop offset="0.9809" stop-color="#949494"/><stop offset="0.9936" stop-color="#b8b8b8"/><stop offset="1.0000" stop-color="#b8b8b8"/></linearGradient><linearGradient id="gb06" gradientUnits="userSpaceOnUse" x1="0" y1="0" x2="0" y2="313.5"><stop offset="0.0000" stop-color="#f2f2f2"/><stop offset="0.1451" stop-color="#f2f2f2"/><stop offset="0.1738" stop-color="#6b6b6b"/><stop offset="0.2281" stop-color="#6b6b6b"/><stop offset="0.2440" stop-color="#878787"/><stop offset="0.3014" stop-color="#878787"/><stop offset="0.3174" stop-color="#9e9e9e"/><stop offset="0.3652" stop-color="#9e9e9e"/><stop offset="0.3812" stop-color="#808080"/><stop offset="0.4386" stop-color="#808080"/><stop offset="0.4545" stop-color="#9e9e9e"/><stop offset="0.5183" stop-color="#9e9e9e"/><stop offset="0.5343" stop-color="#8c8c8c"/><stop offset="0.5821" stop-color="#8c8c8c"/><stop offset="0.5981" stop-color="#999999"/><stop offset="0.6300" stop-color="#999999"/><stop offset="0.6459" stop-color="#696969"/><stop offset="0.9617" stop-color="#696969"/><stop offset="0.9809" stop-color="#949494"/><stop offset="0.9936" stop-color="#b8b8b8"/><stop offset="1.0000" stop-color="#b8b8b8"/></linearGradient><filter id="blb0" filterUnits="userSpaceOnUse" x="-30" y="-30" width="285.2" height="373.5" color-interpolation-filters="sRGB"><feGaussianBlur stdDeviation="7 1.2"/></filter><radialGradient id="r32"><stop offset="0" stop-color="#555555"/><stop offset="0.55" stop-color="#555555" stop-opacity="0.85"/><stop offset="1" stop-color="#555555" stop-opacity="0"/></radialGradient><radialGradient id="r31"><stop offset="0" stop-color="#525252"/><stop offset="0.55" stop-color="#525252" stop-opacity="0.85"/><stop offset="1" stop-color="#525252" stop-opacity="0"/></radialGradient><filter id="jb0" filterUnits="userSpaceOnUse" x="-30" y="-30" width="285.2" height="373.5" color-interpolation-filters="sRGB" primitiveUnits="userSpaceOnUse"><feTurbulence type="fractalNoise" baseFrequency="0.17 0.045" numOctaves="3" seed="30" result="n0"/><feColorMatrix in="n0" type="matrix" values="1 0 0 0 0 1 0 0 0 0 1 0 0 0 0 0 0 0 0 1" result="n"/><feComposite in="SourceGraphic" in2="n" operator="arithmetic" k2="1" k3="0.55" k4="-0.275" result="s"/><feColorMatrix in="s" type="matrix" values="1 0 0 0 0 1 0 0 0 0 1 0 0 0 0 0 0 0 0 1"/><feComponentTransfer><feFuncR type="table" tableValues="0.502 0.527 0.552 0.577 0.602 0.626 0.651 0.676 0.701 0.726 0.751 0.776 0.801 0.826 0.851 0.875 0.9 0.925 0.95 0.975 1 1 1 1 1 1 1 1 1 1 1 1 1 1 1 1 0.938 0.875 0.813 0.751 0.689 0.626 0.564 0.502 0.446 0.39 0.335 0.279 0.223 0.167 0.112 0.0558 0 0 0 0 0 0 0 0 0 0 0 0 0 0 0 0 0 0 0 0 0 0 0 0 0 0 0 0 0 0 0 0 0 0 0 0 0 0 0 0 0 0 0 0 0 0 0 0 0"/><feFuncG type="table" tableValues="0 0 0 0 0 0 0 0 0 0 0 0 0 0 0 0 0 0 0 0 0 0.0627 0.125 0.188 0.251 0.314 0.376 0.439 0.502 0.573 0.644 0.715 0.787 0.858 0.929 1 1 1 1 1 1 1 1 1 1 1 1 1 1 1 1 1 1 0.958 0.915 0.873 0.83 0.788 0.745 0.693 0.641 0.588 0.536 0.484 0.431 0.382 0.333 0.284 0.235 0.186 0.137 0.124 0.11 0.0961 0.0824 0.0686 0.0549 0.0412 0.0275 0.0137 0 0 0 0 0 0 0 0 0 0 0 0 0 0 0 0 0 0 0 0 0"/><feFuncB type="table" tableValues="0 0 0 0 0 0 0 0 0 0 0 0 0 0 0 0 0 0 0 0 0 0 0 0 0 0 0 0 0 0 0 0 0 0 0 0 0.0627 0.125 0.188 0.251 0.314 0.376 0.439 0.502 0.557 0.613 0.668 0.723 0.779 0.834 0.889 0.945 1 1 1 1 1 1 1 1 1 1 1 1 1 0.993 0.987 0.98 0.974 0.967 0.961 0.941 0.922 0.902 0.882 0.863 0.843 0.824 0.804 0.784 0.765 0.755 0.745 0.735 0.725 0.716 0.706 0.696 0.686 0.676 0.667 0.663 0.659 0.655 0.651 0.647 0.643 0.639 0.635 0.631 0.627"/></feComponentTransfer><feGaussianBlur stdDeviation="0.6"/></filter><clipPath id="cb0"><rect x="0" y="0" width="225.2" height="313.5"/></clipPath><filter id="tb" x="-5%" y="-5%" width="110%" height="110%"><feGaussianBlur stdDeviation="0.45"/></filter><clipPath id="clipR"><rect x="0" y="0" width="631.3" height="710"/></clipPath><linearGradient id="cbar" x1="0" y1="0" x2="1" y2="0"><stop offset="0.000" stop-color="rgb(120,0,0)"/><stop offset="0.080" stop-color="rgb(150,0,0)"/><stop offset="0.210" stop-color="rgb(255,0,0)"/><stop offset="0.280" stop-color="rgb(255,128,0)"/><stop offset="0.350" stop-color="rgb(255,255,0)"/><stop offset="0.430" stop-color="rgb(128,255,128)"/><stop offset="0.520" stop-color="rgb(0,255,255)"/><stop offset="0.560" stop-color="rgb(0,128,255)"/><stop offset="0.600" stop-color="rgb(0,0,255)"/><stop offset="0.800" stop-color="rgb(0,0,200)"/><stop offset="1.000" stop-color="rgb(0,0,130)"/></linearGradient></defs><rect width="1363" height="710" fill="#fff"/><g transform="matrix(1,-0.3835,0,1,72.00,133.00)"><g clip-path="url(#ca0)"><g filter="url(#ja0)"><g filter="url(#bla0)"><rect x="-25.0" y="-25" width="39.0" height="396" fill="url(#ga00)"/><rect x="14.0" y="-25" width="27.5" height="396" fill="url(#ga01)"/><rect x="41.5" y="-25" width="20.0" height="396" fill="url(#ga02)"/><rect x="61.5" y="-25" width="17.5" height="396" fill="url(#ga03)"/><rect x="79.0" y="-25" width="56.0" height="396" fill="url(#ga04)"/><rect x="135.0" y="-25" width="62.5" height="396" fill="url(#ga05)"/><rect x="197.5" y="-25" width="35.0" height="396" fill="url(#ga06)"/><rect x="232.5" y="-25" width="37.5" height="396" fill="url(#ga07)"/><rect x="270.0" y="-25" width="32.5" height="396" fill="url(#ga08)"/><rect x="302.5" y="-25" width="37.5" height="396" fill="url(#ga09)"/></g><ellipse cx="16.0" cy="31.0" rx="4" ry="6" fill="url(#r52)"/><ellipse cx="34.0" cy="36.0" rx="3" ry="4" fill="url(#r55)"/><ellipse cx="50.0" cy="33.0" rx="7" ry="6" fill="url(#r42)"/><ellipse cx="64.0" cy="38.0" rx="3" ry="4" fill="url(#r55)"/><ellipse cx="80.0" cy="41.0" rx="4" ry="3" fill="url(#r55)"/><ellipse cx="95.0" cy="44.0" rx="6" ry="5" fill="url(#r44)"/><ellipse cx="108.0" cy="44.0" rx="8" ry="5" fill="url(#r40)"/><ellipse cx="121.0" cy="47.0" rx="5" ry="4" fill="url(#r50)"/><ellipse cx="134.0" cy="43.0" rx="7" ry="5" fill="url(#r40)"/><ellipse cx="150.0" cy="43.0" rx="4" ry="4" fill="url(#r55)"/><ellipse cx="163.0" cy="40.0" rx="6" ry="4" fill="url(#r46)"/><ellipse cx="181.0" cy="42.0" rx="4" ry="5" fill="url(#r52)"/><ellipse cx="199.0" cy="38.0" rx="7" ry="4" fill="url(#r45)"/><ellipse cx="214.0" cy="40.0" rx="5" ry="5" fill="url(#r50)"/><ellipse cx="231.0" cy="36.0" rx="4" ry="4" fill="url(#r55)"/><ellipse cx="246.0" cy="37.0" rx="6" ry="6" fill="url(#r44)"/><ellipse cx="262.0" cy="34.0" rx="5" ry="4" fill="url(#r52)"/><ellipse cx="278.0" cy="35.0" rx="3" ry="5" fill="url(#r55)"/><ellipse cx="292.0" cy="31.0" rx="4" ry="4" fill="url(#r50)"/></g></g></g><g transform="matrix(1,-0.3835,0,1,132.40,172.60)"><g clip-path="url(#ca1)"><g filter="url(#ja1)"><g filter="url(#bla1)"><rect x="-25.0" y="-25" width="40.0" height="396" fill="url(#ga10)"/><rect x="15.0" y="-25" width="27.5" height="396" fill="url(#ga11)"/><rect x="42.5" y="-25" width="19.0" height="396" fill="url(#ga12)"/><rect x="61.5" y="-25" width="22.5" height="396" fill="url(#ga13)"/><rect x="84.0" y="-25" width="60.0" height="396" fill="url(#ga14)"/><rect x="144.0" y="-25" width="65.0" height="396" fill="url(#ga15)"/><rect x="209.0" y="-25" width="40.0" height="396" fill="url(#ga16)"/><rect x="249.0" y="-25" width="42.5" height="396" fill="url(#ga17)"/><rect x="291.5" y="-25" width="48.5" height="396" fill="url(#ga18)"/></g></g></g></g><g transform="matrix(1,-0.3835,0,1,192.80,212.20)"><g clip-path="url(#ca2)"><g filter="url(#ja2)"><g filter="url(#bla2)"><rect x="-25.0" y="-25" width="40.0" height="396" fill="url(#ga20)"/><rect x="15.0" y="-25" width="27.5" height="396" fill="url(#ga21)"/><rect x="42.5" y="-25" width="19.0" height="396" fill="url(#ga22)"/><rect x="61.5" y="-25" width="22.5" height="396" fill="url(#ga23)"/><rect x="84.0" y="-25" width="48.5" height="396" fill="url(#ga24)"/><rect x="132.5" y="-25" width="65.0" height="396" fill="url(#ga25)"/><rect x="197.5" y="-25" width="56.0" height="396" fill="url(#ga26)"/><rect x="253.5" y="-25" width="42.5" height="396" fill="url(#ga27)"/><rect x="296.0" y="-25" width="44.0" height="396" fill="url(#ga28)"/></g></g></g></g><g transform="matrix(1,-0.3835,0,1,253.20,251.80)"><g clip-path="url(#ca3)"><g filter="url(#ja3)"><g filter="url(#bla3)"><rect x="-25.0" y="-25" width="40.0" height="396" fill="url(#ga30)"/><rect x="15.0" y="-25" width="27.5" height="396" fill="url(#ga31)"/><rect x="42.5" y="-25" width="19.0" height="396" fill="url(#ga32)"/><rect x="61.5" y="-25" width="37.5" height="396" fill="url(#ga33)"/><rect x="99.0" y="-25" width="66.0" height="396" fill="url(#ga34)"/><rect x="165.0" y="-25" width="65.0" height="396" fill="url(#ga35)"/><rect x="230.0" y="-25" width="57.5" height="396" fill="url(#ga36)"/><rect x="287.5" y="-25" width="52.5" height="396" fill="url(#ga37)"/></g></g></g></g><g transform="matrix(1,-0.3835,0,1,313.60,291.40)"><g clip-path="url(#ca4)"><g filter="url(#ja4)"><g filter="url(#bla4)"><rect x="-25.0" y="-25" width="45.0" height="396" fill="url(#ga40)"/><rect x="20.0" y="-25" width="35.0" height="396" fill="url(#ga41)"/><rect x="55.0" y="-25" width="30.0" height="396" fill="url(#ga42)"/><rect x="85.0" y="-25" width="30.0" height="396" fill="url(#ga43)"/><rect x="115.0" y="-25" width="28.0" height="396" fill="url(#ga44)"/><rect x="143.0" y="-25" width="25.0" height="396" fill="url(#ga45)"/><rect x="168.0" y="-25" width="22.5" height="396" fill="url(#ga46)"/><rect x="190.5" y="-25" width="21.0" height="396" fill="url(#ga47)"/><rect x="211.5" y="-25" width="19.5" height="396" fill="url(#ga48)"/><rect x="231.0" y="-25" width="22.0" height="396" fill="url(#ga49)"/><rect x="253.0" y="-25" width="25.0" height="396" fill="url(#ga410)"/><rect x="278.0" y="-25" width="21.0" height="396" fill="url(#ga411)"/><rect x="299.0" y="-25" width="12.5" height="396" fill="url(#ga412)"/><rect x="311.5" y="-25" width="28.5" height="396" fill="url(#ga413)"/></g><ellipse cx="126.4" cy="19.1" rx="5" ry="4" fill="url(#r55)"/><ellipse cx="141.4" cy="17.8" rx="6" ry="4" fill="url(#r55)"/><ellipse cx="156.4" cy="18.6" rx="4" ry="3" fill="url(#r55)"/><ellipse cx="168.4" cy="14.2" rx="3" ry="4" fill="url(#r55)"/><ellipse cx="160.4" cy="100.1" rx="6" ry="36" fill="url(#r70)"/><ellipse cx="188.4" cy="115.9" rx="5" ry="22" fill="url(#r65)"/><ellipse cx="31.4" cy="313.6" rx="16" ry="24" fill="url(#r28)"/><ellipse cx="161.4" cy="287.5" rx="15" ry="27" fill="url(#r28)"/><ellipse cx="298.4" cy="308.0" rx="12" ry="15" fill="url(#r24)"/><ellipse cx="231.4" cy="174.3" rx="9" ry="20" fill="url(#r28)"/></g></g></g><g transform="matrix(1,0.8,0,1,1101.80,12.70)"><g clip-path="url(#cb4)"><g filter="url(#jb4)"><g filter="url(#blb4)"><rect x="-25.0" y="-25" width="62.5" height="363.5" fill="url(#gb40)"/><rect x="37.5" y="-25" width="75.0" height="363.5" fill="url(#gb41)"/><rect x="112.5" y="-25" width="75.1" height="363.5" fill="url(#gb42)"/><rect x="187.6" y="-25" width="62.6" height="363.5" fill="url(#gb43)"/></g><ellipse cx="160.2" cy="59.1" rx="5" ry="8" fill="url(#r25)"/><ellipse cx="188.2" cy="54.7" rx="6" ry="9" fill="url(#r22)"/></g></g></g><g transform="matrix(1,0.8,0,1,1024.30,45.30)"><g clip-path="url(#cb3)"><g filter="url(#jb3)"><g filter="url(#blb3)"><rect x="-25.0" y="-25" width="62.5" height="363.5" fill="url(#gb30)"/><rect x="37.5" y="-25" width="75.0" height="363.5" fill="url(#gb31)"/><rect x="112.5" y="-25" width="75.1" height="363.5" fill="url(#gb32)"/><rect x="187.6" y="-25" width="62.6" height="363.5" fill="url(#gb33)"/></g><ellipse cx="175.7" cy="144.1" rx="6" ry="35" fill="url(#r28)"/><ellipse cx="205.7" cy="150.1" rx="5" ry="30" fill="url(#r30)"/></g></g></g><g transform="matrix(1,0.8,0,1,946.80,77.90)"><g clip-path="url(#cb2)"><g filter="url(#jb2)"><g filter="url(#blb2)"><rect x="-25.0" y="-25" width="62.5" height="363.5" fill="url(#gb20)"/><rect x="37.5" y="-25" width="75.0" height="363.5" fill="url(#gb21)"/><rect x="112.5" y="-25" width="75.1" height="363.5" fill="url(#gb22)"/><rect x="187.6" y="-25" width="62.6" height="363.5" fill="url(#gb23)"/></g><ellipse cx="178.2" cy="179.5" rx="8" ry="40" fill="url(#r28)"/><ellipse cx="203.2" cy="189.5" rx="5" ry="30" fill="url(#r30)"/></g></g></g><g transform="matrix(1,0.8,0,1,869.30,110.50)"><g clip-path="url(#cb1)"><g filter="url(#jb1)"><g filter="url(#blb1)"><rect x="-25.0" y="-25" width="62.5" height="363.5" fill="url(#gb10)"/><rect x="37.5" y="-25" width="75.0" height="363.5" fill="url(#gb11)"/><rect x="112.5" y="-25" width="75.1" height="363.5" fill="url(#gb12)"/><rect x="187.6" y="-25" width="62.6" height="363.5" fill="url(#gb13)"/></g></g></g></g><g transform="matrix(1,0.8,0,1,791.80,143.10)"><g clip-path="url(#cb0)"><g filter="url(#jb0)"><g filter="url(#blb0)"><rect x="-25.0" y="-25" width="45.0" height="363.5" fill="url(#gb00)"/><rect x="20.0" y="-25" width="40.0" height="363.5" fill="url(#gb01)"/><rect x="60.0" y="-25" width="40.0" height="363.5" fill="url(#gb02)"/><rect x="100.0" y="-25" width="40.0" height="363.5" fill="url(#gb03)"/><rect x="140.0" y="-25" width="40.0" height="363.5" fill="url(#gb04)"/><rect x="180.0" y="-25" width="32.6" height="363.5" fill="url(#gb05)"/><rect x="212.6" y="-25" width="37.6" height="363.5" fill="url(#gb06)"/></g><ellipse cx="208.2" cy="230.3" rx="5" ry="35" fill="url(#r28)"/><ellipse cx="193.2" cy="172.3" rx="4" ry="20" fill="url(#r30)"/><ellipse cx="160.2" cy="274.7" rx="5" ry="22" fill="url(#r28)"/><ellipse cx="132.2" cy="177.1" rx="5" ry="16" fill="url(#r32)"/><ellipse cx="68.2" cy="272.3" rx="25" ry="40" fill="url(#r31)"/><ellipse cx="38.2" cy="256.3" rx="20" ry="30" fill="url(#r30)"/></g></g></g><line x1="387.3" y1="12.1" x2="629.0" y2="170.4" stroke="#6a6a6a" stroke-width="1.0"/><line x1="72.0" y1="479.0" x2="313.6" y2="636.5" stroke="#6a6a6a" stroke-width="1.0"/><line x1="72.3" y1="133.0" x2="72.3" y2="479.0" stroke="#777" stroke-width="1.0"/><line x1="791.9" y1="143.1" x2="791.9" y2="456.6" stroke="#777" stroke-width="1.0"/><line x1="313.6" y1="636.5" x2="629.0" y2="515.6" stroke="#6a6a6a" stroke-width="1.0"/><line x1="791.8" y1="143.1" x2="1101.8" y2="12.7" stroke="#6a6a6a" stroke-width="1.0"/><line x1="1017.0" y1="636.8" x2="1327.0" y2="506.6" stroke="#6a6a6a" stroke-width="1.0"/><line x1="65.0" y1="128.1" x2="72.5" y2="132.3" stroke="#6a6a6a" stroke-width="1.0"/><line x1="65.0" y1="162.9" x2="72.5" y2="167.1" stroke="#6a6a6a" stroke-width="1.0"/><line x1="65.0" y1="197.6" x2="72.5" y2="201.8" stroke="#6a6a6a" stroke-width="1.0"/><line x1="65.0" y1="232.4" x2="72.5" y2="236.6" stroke="#6a6a6a" stroke-width="1.0"/><line x1="65.0" y1="267.1" x2="72.5" y2="271.3" stroke="#6a6a6a" stroke-width="1.0"/><line x1="65.0" y1="301.9" x2="72.5" y2="306.1" stroke="#6a6a6a" stroke-width="1.0"/><line x1="65.0" y1="336.6" x2="72.5" y2="340.8" stroke="#6a6a6a" stroke-width="1.0"/><line x1="65.0" y1="371.4" x2="72.5" y2="375.6" stroke="#6a6a6a" stroke-width="1.0"/><line x1="65.0" y1="406.1" x2="72.5" y2="410.3" stroke="#6a6a6a" stroke-width="1.0"/><line x1="65.0" y1="440.9" x2="72.5" y2="445.1" stroke="#6a6a6a" stroke-width="1.0"/><line x1="72.0" y1="479.2" x2="63.8" y2="482.3" stroke="#6a6a6a" stroke-width="1.0"/><line x1="132.4" y1="518.6" x2="124.2" y2="521.7" stroke="#6a6a6a" stroke-width="1.0"/><line x1="192.8" y1="558.0" x2="184.6" y2="561.1" stroke="#6a6a6a" stroke-width="1.0"/><line x1="253.2" y1="597.4" x2="245.0" y2="600.5" stroke="#6a6a6a" stroke-width="1.0"/><line x1="313.6" y1="636.8" x2="305.4" y2="639.9" stroke="#6a6a6a" stroke-width="1.0"/><line x1="373.2" y1="608.4" x2="380.7" y2="613.2" stroke="#6a6a6a" stroke-width="1.0"/><line x1="451.5" y1="579.2" x2="459.0" y2="584.0" stroke="#6a6a6a" stroke-width="1.0"/><line x1="532.5" y1="549.9" x2="540.0" y2="554.7" stroke="#6a6a6a" stroke-width="1.0"/><line x1="613.0" y1="518.4" x2="620.5" y2="523.2" stroke="#6a6a6a" stroke-width="1.0"/><line x1="785.0" y1="138.3" x2="791.8" y2="142.9" stroke="#6a6a6a" stroke-width="1.0"/><line x1="785.0" y1="216.9" x2="791.8" y2="221.5" stroke="#6a6a6a" stroke-width="1.0"/><line x1="785.0" y1="295.5" x2="791.8" y2="300.1" stroke="#6a6a6a" stroke-width="1.0"/><line x1="785.0" y1="374.1" x2="791.8" y2="378.7" stroke="#6a6a6a" stroke-width="1.0"/><line x1="848.0" y1="501.6" x2="840.0" y2="505.0" stroke="#6a6a6a" stroke-width="1.0"/><line x1="904.3" y1="546.6" x2="896.3" y2="550.0" stroke="#6a6a6a" stroke-width="1.0"/><line x1="960.5" y1="591.6" x2="952.5" y2="595.0" stroke="#6a6a6a" stroke-width="1.0"/><line x1="1016.8" y1="636.6" x2="1008.8" y2="640.0" stroke="#6a6a6a" stroke-width="1.0"/><line x1="1017.0" y1="636.6" x2="1023.0" y2="642.6" stroke="#6a6a6a" stroke-width="1.0"/><line x1="1094.5" y1="604.0" x2="1100.5" y2="610.0" stroke="#6a6a6a" stroke-width="1.0"/><line x1="1172.0" y1="571.4" x2="1178.0" y2="577.4" stroke="#6a6a6a" stroke-width="1.0"/><line x1="1249.5" y1="538.8" x2="1255.5" y2="544.8" stroke="#6a6a6a" stroke-width="1.0"/><line x1="1327.0" y1="506.2" x2="1333.0" y2="512.2" stroke="#6a6a6a" stroke-width="1.0"/><rect x="610.3" y="676" width="229" height="10" fill="url(#cbar)"/><g filter="url(#tb)"><text x="58.8" y="130.7" font-size="17" text-anchor="end" >0</text><text x="58.8" y="165.5" font-size="17" text-anchor="end" >20</text><text x="58.8" y="200.2" font-size="17" text-anchor="end" >40</text><text x="58.8" y="235.0" font-size="17" text-anchor="end" >60</text><text x="58.8" y="269.7" font-size="17" text-anchor="end" >80</text><text x="58.8" y="304.5" font-size="17" text-anchor="end" >100</text><text x="58.8" y="339.2" font-size="17" text-anchor="end" >120</text><text x="58.8" y="374.0" font-size="17" text-anchor="end" >140</text><text x="58.8" y="408.7" font-size="17" text-anchor="end" >160</text><text x="58.8" y="443.5" font-size="17" text-anchor="end" >180</text><text x="0.0" y="0.0" font-size="19.5" text-anchor="middle" transform="translate(20.5,306) rotate(-90)">Time (ns)</text><text x="52.5" y="500.8" font-size="17" text-anchor="middle" >0</text><text x="112.9" y="540.2" font-size="17" text-anchor="middle" >5</text><text x="170.0" y="579.6" font-size="17" text-anchor="middle" >10</text><text x="230.4" y="619.0" font-size="17" text-anchor="middle" >15</text><text x="290.8" y="658.4" font-size="17" text-anchor="middle" >20</text><text x="128.5" y="616.0" font-size="19.5" text-anchor="middle" >Y-Axis (m)</text><text x="394.2" y="637.6" font-size="17" text-anchor="middle" >5</text><text x="475.0" y="608.4" font-size="17" text-anchor="middle" >10</text><text x="556.0" y="579.1" font-size="17" text-anchor="middle" >15</text><text x="632.0" y="547.6" font-size="17" text-anchor="middle" clip-path="url(#clipR)">2</text><text x="503.0" y="657.0" font-size="19.5" text-anchor="middle" >Scan Axis in m (x-axis)</text><text x="309.2" y="692.0" font-size="34" text-anchor="middle" >(a)</text><text x="779.5" y="140.2" font-size="17" text-anchor="end" >0</text><text x="779.5" y="218.8" font-size="17" text-anchor="end" >50</text><text x="779.5" y="297.4" font-size="17" text-anchor="end" >100</text><text x="779.5" y="376.0" font-size="17" text-anchor="end" >150</text><text x="0.0" y="0.0" font-size="19.5" text-anchor="middle" transform="translate(739,298.4) rotate(-90)">Time (ns)</text><text x="817.2" y="516.6" font-size="17" text-anchor="middle" >5</text><text x="870.6" y="561.6" font-size="17" text-anchor="middle" >10</text><text x="927.1" y="607.2" font-size="17" text-anchor="middle" >15</text><text x="982.2" y="651.2" font-size="17" text-anchor="middle" >20</text><text x="804.5" y="585.0" font-size="19.5" text-anchor="middle" >Scan Axis in m (Y-axis)</text><text x="1033.0" y="663.9" font-size="17" text-anchor="middle" >0</text><text x="1111.0" y="632.3" font-size="17" text-anchor="middle" >5</text><text x="1192.7" y="598.3" font-size="17" text-anchor="middle" >10</text><text x="1270.0" y="565.6" font-size="17" text-anchor="middle" >15</text><text x="1346.9" y="531.6" font-size="17" text-anchor="middle" >20</text><text x="1225.7" y="637.0" font-size="19.5" text-anchor="middle" >X-Axis (m)</text><text x="1085.4" y="689.0" font-size="34" text-anchor="middle" >(b)</text><text x="610.0" y="704.0" font-size="17.5" text-anchor="start" >0%</text><text x="841.5" y="704.0" font-size="17.5" text-anchor="end" >100%</text></g></svg>
</body></html>
